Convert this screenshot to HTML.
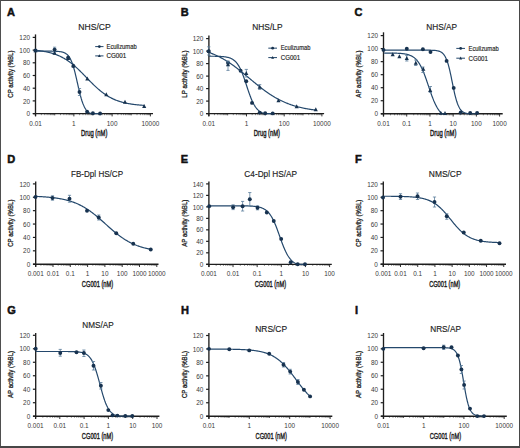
<!DOCTYPE html>
<html><head><meta charset="utf-8"><style>
html,body{margin:0;padding:0;background:#fff;}
body{width:520px;height:448px;overflow:hidden;}
svg{display:block;font-family:"Liberation Sans", sans-serif;}
#wrap{width:520px;height:448px;}

</style></head><body><div id="wrap">
<svg width="520" height="448" viewBox="0 0 520 448">
<rect x="0" y="0" width="520" height="448" fill="#fff"/>
<text x="6.90" y="15.90" font-size="11" text-anchor="start" font-weight="bold" fill="#111" stroke="#111" stroke-width="0.5">A</text>
<text x="94.55" y="29.90" font-size="9" text-anchor="middle" font-weight="normal" fill="#222" stroke="#222" stroke-width="0.15" textLength="32.50" lengthAdjust="spacingAndGlyphs">NHS/CP</text>
<path d="M35.50,34.40 V116.20" stroke="#1e1e1e" stroke-width="1.35" fill="none"/>
<path d="M32.70,113.60 H35.50" stroke="#1e1e1e" stroke-width="1.2" fill="none"/>
<text x="30.00" y="116.25" font-size="6.4" text-anchor="end" font-weight="normal" fill="#383838" stroke="#383838" stroke-width="0">0</text>
<path d="M32.70,100.90 H35.50" stroke="#1e1e1e" stroke-width="1.2" fill="none"/>
<text x="30.00" y="103.55" font-size="6.4" text-anchor="end" font-weight="normal" fill="#383838" stroke="#383838" stroke-width="0">20</text>
<path d="M32.70,88.20 H35.50" stroke="#1e1e1e" stroke-width="1.2" fill="none"/>
<text x="30.00" y="90.85" font-size="6.4" text-anchor="end" font-weight="normal" fill="#383838" stroke="#383838" stroke-width="0">40</text>
<path d="M32.70,75.50 H35.50" stroke="#1e1e1e" stroke-width="1.2" fill="none"/>
<text x="30.00" y="78.15" font-size="6.4" text-anchor="end" font-weight="normal" fill="#383838" stroke="#383838" stroke-width="0">60</text>
<path d="M32.70,62.80 H35.50" stroke="#1e1e1e" stroke-width="1.2" fill="none"/>
<text x="30.00" y="65.45" font-size="6.4" text-anchor="end" font-weight="normal" fill="#383838" stroke="#383838" stroke-width="0">80</text>
<path d="M32.70,50.10 H35.50" stroke="#1e1e1e" stroke-width="1.2" fill="none"/>
<text x="30.00" y="52.75" font-size="6.4" text-anchor="end" font-weight="normal" fill="#383838" stroke="#383838" stroke-width="0">100</text>
<path d="M32.70,37.40 H35.50" stroke="#1e1e1e" stroke-width="1.2" fill="none"/>
<text x="30.00" y="40.05" font-size="6.4" text-anchor="end" font-weight="normal" fill="#383838" stroke="#383838" stroke-width="0">120</text>
<path d="M32.90,113.60 H153.00" stroke="#1e1e1e" stroke-width="1.35" fill="none"/>
<path d="M35.60,113.60 V116.40" stroke="#1e1e1e" stroke-width="0.9" fill="none"/>
<path d="M41.36,113.60 V115.20" stroke="#1e1e1e" stroke-width="0.5" fill="none"/>
<path d="M44.73,113.60 V115.20" stroke="#1e1e1e" stroke-width="0.5" fill="none"/>
<path d="M47.12,113.60 V115.20" stroke="#1e1e1e" stroke-width="0.5" fill="none"/>
<path d="M48.97,113.60 V115.20" stroke="#1e1e1e" stroke-width="0.5" fill="none"/>
<path d="M50.49,113.60 V115.20" stroke="#1e1e1e" stroke-width="0.5" fill="none"/>
<path d="M51.77,113.60 V115.20" stroke="#1e1e1e" stroke-width="0.5" fill="none"/>
<path d="M52.88,113.60 V115.20" stroke="#1e1e1e" stroke-width="0.5" fill="none"/>
<path d="M53.85,113.60 V115.20" stroke="#1e1e1e" stroke-width="0.5" fill="none"/>
<path d="M54.73,113.60 V115.40" stroke="#1e1e1e" stroke-width="0.7" fill="none"/>
<path d="M60.49,113.60 V115.20" stroke="#1e1e1e" stroke-width="0.5" fill="none"/>
<path d="M63.86,113.60 V115.20" stroke="#1e1e1e" stroke-width="0.5" fill="none"/>
<path d="M66.25,113.60 V115.20" stroke="#1e1e1e" stroke-width="0.5" fill="none"/>
<path d="M68.10,113.60 V115.20" stroke="#1e1e1e" stroke-width="0.5" fill="none"/>
<path d="M69.62,113.60 V115.20" stroke="#1e1e1e" stroke-width="0.5" fill="none"/>
<path d="M70.90,113.60 V115.20" stroke="#1e1e1e" stroke-width="0.5" fill="none"/>
<path d="M72.01,113.60 V115.20" stroke="#1e1e1e" stroke-width="0.5" fill="none"/>
<path d="M72.98,113.60 V115.20" stroke="#1e1e1e" stroke-width="0.5" fill="none"/>
<path d="M73.86,113.60 V116.40" stroke="#1e1e1e" stroke-width="0.9" fill="none"/>
<path d="M79.62,113.60 V115.20" stroke="#1e1e1e" stroke-width="0.5" fill="none"/>
<path d="M82.99,113.60 V115.20" stroke="#1e1e1e" stroke-width="0.5" fill="none"/>
<path d="M85.38,113.60 V115.20" stroke="#1e1e1e" stroke-width="0.5" fill="none"/>
<path d="M87.23,113.60 V115.20" stroke="#1e1e1e" stroke-width="0.5" fill="none"/>
<path d="M88.75,113.60 V115.20" stroke="#1e1e1e" stroke-width="0.5" fill="none"/>
<path d="M90.03,113.60 V115.20" stroke="#1e1e1e" stroke-width="0.5" fill="none"/>
<path d="M91.14,113.60 V115.20" stroke="#1e1e1e" stroke-width="0.5" fill="none"/>
<path d="M92.11,113.60 V115.20" stroke="#1e1e1e" stroke-width="0.5" fill="none"/>
<path d="M92.99,113.60 V115.40" stroke="#1e1e1e" stroke-width="0.7" fill="none"/>
<path d="M98.75,113.60 V115.20" stroke="#1e1e1e" stroke-width="0.5" fill="none"/>
<path d="M102.12,113.60 V115.20" stroke="#1e1e1e" stroke-width="0.5" fill="none"/>
<path d="M104.51,113.60 V115.20" stroke="#1e1e1e" stroke-width="0.5" fill="none"/>
<path d="M106.36,113.60 V115.20" stroke="#1e1e1e" stroke-width="0.5" fill="none"/>
<path d="M107.88,113.60 V115.20" stroke="#1e1e1e" stroke-width="0.5" fill="none"/>
<path d="M109.16,113.60 V115.20" stroke="#1e1e1e" stroke-width="0.5" fill="none"/>
<path d="M110.27,113.60 V115.20" stroke="#1e1e1e" stroke-width="0.5" fill="none"/>
<path d="M111.24,113.60 V115.20" stroke="#1e1e1e" stroke-width="0.5" fill="none"/>
<path d="M112.12,113.60 V116.40" stroke="#1e1e1e" stroke-width="0.9" fill="none"/>
<path d="M117.88,113.60 V115.20" stroke="#1e1e1e" stroke-width="0.5" fill="none"/>
<path d="M121.25,113.60 V115.20" stroke="#1e1e1e" stroke-width="0.5" fill="none"/>
<path d="M123.64,113.60 V115.20" stroke="#1e1e1e" stroke-width="0.5" fill="none"/>
<path d="M125.49,113.60 V115.20" stroke="#1e1e1e" stroke-width="0.5" fill="none"/>
<path d="M127.01,113.60 V115.20" stroke="#1e1e1e" stroke-width="0.5" fill="none"/>
<path d="M128.29,113.60 V115.20" stroke="#1e1e1e" stroke-width="0.5" fill="none"/>
<path d="M129.40,113.60 V115.20" stroke="#1e1e1e" stroke-width="0.5" fill="none"/>
<path d="M130.37,113.60 V115.20" stroke="#1e1e1e" stroke-width="0.5" fill="none"/>
<path d="M131.25,113.60 V115.40" stroke="#1e1e1e" stroke-width="0.7" fill="none"/>
<path d="M137.01,113.60 V115.20" stroke="#1e1e1e" stroke-width="0.5" fill="none"/>
<path d="M140.38,113.60 V115.20" stroke="#1e1e1e" stroke-width="0.5" fill="none"/>
<path d="M142.77,113.60 V115.20" stroke="#1e1e1e" stroke-width="0.5" fill="none"/>
<path d="M144.62,113.60 V115.20" stroke="#1e1e1e" stroke-width="0.5" fill="none"/>
<path d="M146.14,113.60 V115.20" stroke="#1e1e1e" stroke-width="0.5" fill="none"/>
<path d="M147.42,113.60 V115.20" stroke="#1e1e1e" stroke-width="0.5" fill="none"/>
<path d="M148.53,113.60 V115.20" stroke="#1e1e1e" stroke-width="0.5" fill="none"/>
<path d="M149.50,113.60 V115.20" stroke="#1e1e1e" stroke-width="0.5" fill="none"/>
<path d="M150.38,113.60 V116.40" stroke="#1e1e1e" stroke-width="0.9" fill="none"/>
<text x="35.60" y="125.60" font-size="6.4" text-anchor="middle" font-weight="normal" fill="#383838" stroke="#383838" stroke-width="0">0.01</text>
<text x="73.86" y="125.60" font-size="6.4" text-anchor="middle" font-weight="normal" fill="#383838" stroke="#383838" stroke-width="0">1</text>
<text x="112.12" y="125.60" font-size="6.4" text-anchor="middle" font-weight="normal" fill="#383838" stroke="#383838" stroke-width="0">100</text>
<text x="150.38" y="125.60" font-size="6.4" text-anchor="middle" font-weight="normal" fill="#383838" stroke="#383838" stroke-width="0">10000</text>
<text x="13.40" y="74.10" font-size="7.7" text-anchor="middle" font-weight="normal" fill="#1a1a1a" stroke="#1a1a1a" stroke-width="0.3" textLength="47.20" lengthAdjust="spacingAndGlyphs" transform="rotate(-90 13.40 74.10)">CP activity (%BL)</text>
<text x="94.20" y="136.40" font-size="8.6" text-anchor="middle" font-weight="normal" fill="#1a1a1a" stroke="#1a1a1a" stroke-width="0.4" textLength="26.30" lengthAdjust="spacingAndGlyphs">Drug (nM)</text>
<path d="M95.20,46.60 H103.50" stroke="#24486c" stroke-width="1" fill="none"/>
<circle cx="99.35" cy="46.60" r="1.4" fill="#17324f"/>
<text x="106.50" y="48.90" font-size="6.5" text-anchor="start" font-weight="normal" fill="#222" stroke="#222" stroke-width="0.15" textLength="30.20" lengthAdjust="spacingAndGlyphs">Eculizumab</text>
<path d="M95.20,55.90 H103.50" stroke="#24486c" stroke-width="1" fill="none"/>
<path d="M99.35,54.21 L100.82,57.08 L97.88,57.08 Z" fill="#17324f"/>
<text x="106.50" y="58.20" font-size="6.5" text-anchor="start" font-weight="normal" fill="#222" stroke="#222" stroke-width="0.15" textLength="19.80" lengthAdjust="spacingAndGlyphs">CG001</text>
<path d="M35.50,51.17 L35.82,51.17 L36.15,51.17 L36.47,51.17 L36.80,51.17 L37.12,51.17 L37.45,51.17 L37.77,51.17 L38.10,51.17 L38.42,51.17 L38.75,51.17 L39.07,51.17 L39.40,51.17 L39.72,51.17 L40.04,51.17 L40.37,51.17 L40.69,51.17 L41.02,51.17 L41.34,51.17 L41.67,51.17 L41.99,51.17 L42.32,51.17 L42.64,51.17 L42.97,51.17 L43.29,51.17 L43.62,51.17 L43.94,51.18 L44.26,51.18 L44.59,51.18 L44.91,51.18 L45.24,51.18 L45.56,51.18 L45.89,51.18 L46.21,51.18 L46.54,51.18 L46.86,51.18 L47.19,51.18 L47.51,51.18 L47.84,51.19 L48.16,51.19 L48.48,51.19 L48.81,51.19 L49.13,51.19 L49.46,51.20 L49.78,51.20 L50.11,51.20 L50.43,51.20 L50.76,51.21 L51.08,51.21 L51.41,51.21 L51.73,51.22 L52.06,51.22 L52.38,51.23 L52.71,51.23 L53.03,51.24 L53.35,51.24 L53.68,51.25 L54.00,51.26 L54.33,51.27 L54.65,51.28 L54.98,51.29 L55.30,51.30 L55.63,51.31 L55.95,51.32 L56.28,51.34 L56.60,51.36 L56.93,51.37 L57.25,51.39 L57.57,51.41 L57.90,51.44 L58.22,51.46 L58.55,51.49 L58.87,51.52 L59.20,51.55 L59.52,51.59 L59.85,51.63 L60.17,51.67 L60.50,51.72 L60.82,51.77 L61.15,51.83 L61.47,51.89 L61.79,51.96 L62.12,52.03 L62.44,52.11 L62.77,52.20 L63.09,52.30 L63.42,52.40 L63.74,52.52 L64.07,52.64 L64.39,52.78 L64.72,52.93 L65.04,53.09 L65.37,53.27 L65.69,53.46 L66.01,53.67 L66.34,53.90 L66.66,54.14 L66.99,54.41 L67.31,54.70 L67.64,55.02 L67.96,55.36 L68.29,55.73 L68.61,56.13 L68.94,56.56 L69.26,57.03 L69.59,57.53 L69.91,58.07 L70.23,58.65 L70.56,59.27 L70.88,59.94 L71.21,60.65 L71.53,61.40 L71.86,62.21 L72.18,63.06 L72.51,63.97 L72.83,64.92 L73.16,65.93 L73.48,66.98 L73.81,68.09 L74.13,69.24 L74.45,70.44 L74.78,71.69 L75.10,72.97 L75.43,74.29 L75.75,75.65 L76.08,77.03 L76.40,78.44 L76.73,79.87 L77.05,81.30 L77.38,82.75 L77.70,84.20 L78.03,85.64 L78.35,87.07 L78.67,88.49 L79.00,89.88 L79.32,91.25 L79.65,92.59 L79.97,93.89 L80.30,95.15 L80.62,96.36 L80.95,97.53 L81.27,98.66 L81.60,99.73 L81.92,100.76 L82.25,101.73 L82.57,102.66 L82.89,103.53 L83.22,104.36 L83.54,105.13 L83.87,105.86 L84.19,106.54 L84.52,107.18 L84.84,107.78 L85.17,108.33 L85.49,108.85 L85.82,109.33 L86.14,109.77 L86.47,110.19 L86.79,110.57 L87.12,110.92 L87.44,111.25 L87.76,111.55 L88.09,111.82 L88.41,112.08 L88.74,112.31 L89.06,112.53 L89.39,112.73 L89.71,112.91 L90.04,113.08 L90.36,113.23 L90.69,113.38 L91.01,113.51 L91.34,113.60 L91.66,113.60 L91.98,113.60 L92.31,113.60 L92.63,113.60 L92.96,113.60 L93.28,113.60 L93.61,113.60 L93.93,113.60 L94.26,113.60 L94.58,113.60 L94.91,113.60 L95.23,113.60 L95.56,113.60 L95.88,113.60 L96.20,113.60 L96.53,113.60 L96.85,113.60 L97.18,113.60 L97.50,113.60 L97.83,113.60 L98.15,113.60 L98.48,113.60 L98.80,113.60 L99.13,113.60 L99.45,113.60 L99.78,113.60 L100.10,113.60" stroke="#24486c" stroke-width="1.2" fill="none"/>
<path d="M54.60,47.20 V52.00 M53.00,47.20 H56.20 M53.00,52.00 H56.20" stroke="#5c7d9c" stroke-width="0.8" fill="none"/>
<path d="M79.50,88.50 V95.50 M77.90,88.50 H81.10 M77.90,95.50 H81.10" stroke="#5c7d9c" stroke-width="0.8" fill="none"/>
<circle cx="35.50" cy="50.50" r="1.95" fill="#17324f"/>
<circle cx="54.60" cy="49.60" r="1.95" fill="#17324f"/>
<circle cx="68.10" cy="57.80" r="1.95" fill="#17324f"/>
<circle cx="73.40" cy="66.00" r="1.95" fill="#17324f"/>
<circle cx="79.50" cy="92.00" r="1.95" fill="#17324f"/>
<circle cx="87.10" cy="111.70" r="1.95" fill="#17324f"/>
<circle cx="92.90" cy="113.20" r="1.95" fill="#17324f"/>
<circle cx="100.10" cy="113.50" r="1.95" fill="#17324f"/>
<path d="M35.50,50.28 L36.05,50.33 L36.59,50.39 L37.14,50.45 L37.68,50.51 L38.23,50.58 L38.78,50.64 L39.32,50.71 L39.87,50.79 L40.42,50.86 L40.96,50.94 L41.51,51.02 L42.05,51.10 L42.60,51.19 L43.15,51.28 L43.69,51.37 L44.24,51.47 L44.79,51.57 L45.33,51.67 L45.88,51.78 L46.42,51.89 L46.97,52.01 L47.52,52.13 L48.06,52.25 L48.61,52.38 L49.16,52.51 L49.70,52.65 L50.25,52.79 L50.79,52.93 L51.34,53.09 L51.89,53.24 L52.43,53.41 L52.98,53.57 L53.53,53.75 L54.07,53.93 L54.62,54.11 L55.16,54.30 L55.71,54.50 L56.26,54.70 L56.80,54.91 L57.35,55.13 L57.90,55.35 L58.44,55.58 L58.99,55.82 L59.53,56.06 L60.08,56.32 L60.63,56.58 L61.17,56.84 L61.72,57.12 L62.27,57.40 L62.81,57.69 L63.36,57.99 L63.90,58.29 L64.45,58.61 L65.00,58.93 L65.54,59.26 L66.09,59.60 L66.64,59.95 L67.18,60.30 L67.73,60.67 L68.27,61.04 L68.82,61.42 L69.37,61.82 L69.91,62.21 L70.46,62.62 L71.01,63.04 L71.55,63.46 L72.10,63.89 L72.64,64.34 L73.19,64.78 L73.74,65.24 L74.28,65.71 L74.83,66.18 L75.37,66.66 L75.92,67.14 L76.47,67.64 L77.01,68.14 L77.56,68.64 L78.11,69.16 L78.65,69.68 L79.20,70.20 L79.74,70.73 L80.29,71.27 L80.84,71.81 L81.38,72.35 L81.93,72.90 L82.48,73.45 L83.02,74.00 L83.57,74.56 L84.11,75.12 L84.66,75.68 L85.21,76.25 L85.75,76.81 L86.30,77.37 L86.85,77.94 L87.39,78.50 L87.94,79.07 L88.48,79.63 L89.03,80.19 L89.58,80.75 L90.12,81.30 L90.67,81.86 L91.22,82.41 L91.76,82.95 L92.31,83.50 L92.85,84.03 L93.40,84.57 L93.95,85.10 L94.49,85.62 L95.04,86.14 L95.59,86.65 L96.13,87.15 L96.68,87.65 L97.22,88.14 L97.77,88.63 L98.32,89.10 L98.86,89.57 L99.41,90.03 L99.96,90.49 L100.50,90.93 L101.05,91.37 L101.59,91.80 L102.14,92.22 L102.69,92.64 L103.23,93.04 L103.78,93.44 L104.33,93.83 L104.87,94.20 L105.42,94.58 L105.96,94.94 L106.51,95.29 L107.06,95.64 L107.60,95.97 L108.15,96.30 L108.69,96.62 L109.24,96.93 L109.79,97.24 L110.33,97.53 L110.88,97.82 L111.43,98.10 L111.97,98.37 L112.52,98.63 L113.06,98.89 L113.61,99.14 L114.16,99.38 L114.70,99.62 L115.25,99.84 L115.80,100.07 L116.34,100.28 L116.89,100.49 L117.43,100.69 L117.98,100.88 L118.53,101.07 L119.07,101.26 L119.62,101.43 L120.17,101.60 L120.71,101.77 L121.26,101.93 L121.80,102.09 L122.35,102.24 L122.90,102.38 L123.44,102.52 L123.99,102.66 L124.54,102.79 L125.08,102.91 L125.63,103.04 L126.17,103.15 L126.72,103.27 L127.27,103.38 L127.81,103.48 L128.36,103.59 L128.91,103.69 L129.45,103.78 L130.00,103.87 L130.54,103.96 L131.09,104.05 L131.64,104.13 L132.18,104.21 L132.73,104.29 L133.28,104.36 L133.82,104.43 L134.37,104.50 L134.91,104.57 L135.46,104.63 L136.01,104.69 L136.55,104.75 L137.10,104.81 L137.65,104.86 L138.19,104.92 L138.74,104.97 L139.28,105.02 L139.83,105.06 L140.38,105.11 L140.92,105.15 L141.47,105.20 L142.02,105.24 L142.56,105.27 L143.11,105.31 L143.65,105.35 L144.20,105.38" stroke="#24486c" stroke-width="1.2" fill="none"/>
<path d="M35.50,48.35 L37.55,52.34 L33.45,52.34 Z" fill="#17324f"/>
<path d="M54.60,50.65 L56.65,54.64 L52.55,54.64 Z" fill="#17324f"/>
<path d="M68.10,55.95 L70.15,59.94 L66.05,59.94 Z" fill="#17324f"/>
<path d="M73.40,63.15 L75.45,67.14 L71.35,67.14 Z" fill="#17324f"/>
<path d="M87.30,76.55 L89.35,80.54 L85.25,80.54 Z" fill="#17324f"/>
<path d="M106.30,92.35 L108.35,96.34 L104.25,96.34 Z" fill="#17324f"/>
<path d="M125.00,99.75 L127.05,103.74 L122.95,103.74 Z" fill="#17324f"/>
<path d="M144.20,103.95 L146.25,107.94 L142.15,107.94 Z" fill="#17324f"/>
<text x="180.70" y="15.90" font-size="11" text-anchor="start" font-weight="bold" fill="#111" stroke="#111" stroke-width="0.5">B</text>
<text x="267.40" y="29.90" font-size="9" text-anchor="middle" font-weight="normal" fill="#222" stroke="#222" stroke-width="0.15" textLength="30.20" lengthAdjust="spacingAndGlyphs">NHS/LP</text>
<path d="M208.90,35.50 V116.20" stroke="#1e1e1e" stroke-width="1.35" fill="none"/>
<path d="M206.10,113.60 H208.90" stroke="#1e1e1e" stroke-width="1.2" fill="none"/>
<text x="203.40" y="116.25" font-size="6.4" text-anchor="end" font-weight="normal" fill="#383838" stroke="#383838" stroke-width="0">0</text>
<path d="M206.10,101.10 H208.90" stroke="#1e1e1e" stroke-width="1.2" fill="none"/>
<text x="203.40" y="103.75" font-size="6.4" text-anchor="end" font-weight="normal" fill="#383838" stroke="#383838" stroke-width="0">20</text>
<path d="M206.10,88.60 H208.90" stroke="#1e1e1e" stroke-width="1.2" fill="none"/>
<text x="203.40" y="91.25" font-size="6.4" text-anchor="end" font-weight="normal" fill="#383838" stroke="#383838" stroke-width="0">40</text>
<path d="M206.10,76.10 H208.90" stroke="#1e1e1e" stroke-width="1.2" fill="none"/>
<text x="203.40" y="78.75" font-size="6.4" text-anchor="end" font-weight="normal" fill="#383838" stroke="#383838" stroke-width="0">60</text>
<path d="M206.10,63.60 H208.90" stroke="#1e1e1e" stroke-width="1.2" fill="none"/>
<text x="203.40" y="66.25" font-size="6.4" text-anchor="end" font-weight="normal" fill="#383838" stroke="#383838" stroke-width="0">80</text>
<path d="M206.10,51.10 H208.90" stroke="#1e1e1e" stroke-width="1.2" fill="none"/>
<text x="203.40" y="53.75" font-size="6.4" text-anchor="end" font-weight="normal" fill="#383838" stroke="#383838" stroke-width="0">100</text>
<path d="M206.10,38.60 H208.90" stroke="#1e1e1e" stroke-width="1.2" fill="none"/>
<text x="203.40" y="41.25" font-size="6.4" text-anchor="end" font-weight="normal" fill="#383838" stroke="#383838" stroke-width="0">120</text>
<path d="M206.30,113.60 H324.10" stroke="#1e1e1e" stroke-width="1.35" fill="none"/>
<path d="M208.80,113.60 V116.40" stroke="#1e1e1e" stroke-width="0.9" fill="none"/>
<path d="M214.47,113.60 V115.20" stroke="#1e1e1e" stroke-width="0.5" fill="none"/>
<path d="M217.79,113.60 V115.20" stroke="#1e1e1e" stroke-width="0.5" fill="none"/>
<path d="M220.15,113.60 V115.20" stroke="#1e1e1e" stroke-width="0.5" fill="none"/>
<path d="M221.98,113.60 V115.20" stroke="#1e1e1e" stroke-width="0.5" fill="none"/>
<path d="M223.47,113.60 V115.20" stroke="#1e1e1e" stroke-width="0.5" fill="none"/>
<path d="M224.73,113.60 V115.20" stroke="#1e1e1e" stroke-width="0.5" fill="none"/>
<path d="M225.82,113.60 V115.20" stroke="#1e1e1e" stroke-width="0.5" fill="none"/>
<path d="M226.79,113.60 V115.20" stroke="#1e1e1e" stroke-width="0.5" fill="none"/>
<path d="M227.65,113.60 V115.40" stroke="#1e1e1e" stroke-width="0.7" fill="none"/>
<path d="M233.32,113.60 V115.20" stroke="#1e1e1e" stroke-width="0.5" fill="none"/>
<path d="M236.64,113.60 V115.20" stroke="#1e1e1e" stroke-width="0.5" fill="none"/>
<path d="M239.00,113.60 V115.20" stroke="#1e1e1e" stroke-width="0.5" fill="none"/>
<path d="M240.83,113.60 V115.20" stroke="#1e1e1e" stroke-width="0.5" fill="none"/>
<path d="M242.32,113.60 V115.20" stroke="#1e1e1e" stroke-width="0.5" fill="none"/>
<path d="M243.58,113.60 V115.20" stroke="#1e1e1e" stroke-width="0.5" fill="none"/>
<path d="M244.67,113.60 V115.20" stroke="#1e1e1e" stroke-width="0.5" fill="none"/>
<path d="M245.64,113.60 V115.20" stroke="#1e1e1e" stroke-width="0.5" fill="none"/>
<path d="M246.50,113.60 V116.40" stroke="#1e1e1e" stroke-width="0.9" fill="none"/>
<path d="M252.17,113.60 V115.20" stroke="#1e1e1e" stroke-width="0.5" fill="none"/>
<path d="M255.49,113.60 V115.20" stroke="#1e1e1e" stroke-width="0.5" fill="none"/>
<path d="M257.85,113.60 V115.20" stroke="#1e1e1e" stroke-width="0.5" fill="none"/>
<path d="M259.68,113.60 V115.20" stroke="#1e1e1e" stroke-width="0.5" fill="none"/>
<path d="M261.17,113.60 V115.20" stroke="#1e1e1e" stroke-width="0.5" fill="none"/>
<path d="M262.43,113.60 V115.20" stroke="#1e1e1e" stroke-width="0.5" fill="none"/>
<path d="M263.52,113.60 V115.20" stroke="#1e1e1e" stroke-width="0.5" fill="none"/>
<path d="M264.49,113.60 V115.20" stroke="#1e1e1e" stroke-width="0.5" fill="none"/>
<path d="M265.35,113.60 V115.40" stroke="#1e1e1e" stroke-width="0.7" fill="none"/>
<path d="M271.02,113.60 V115.20" stroke="#1e1e1e" stroke-width="0.5" fill="none"/>
<path d="M274.34,113.60 V115.20" stroke="#1e1e1e" stroke-width="0.5" fill="none"/>
<path d="M276.70,113.60 V115.20" stroke="#1e1e1e" stroke-width="0.5" fill="none"/>
<path d="M278.53,113.60 V115.20" stroke="#1e1e1e" stroke-width="0.5" fill="none"/>
<path d="M280.02,113.60 V115.20" stroke="#1e1e1e" stroke-width="0.5" fill="none"/>
<path d="M281.28,113.60 V115.20" stroke="#1e1e1e" stroke-width="0.5" fill="none"/>
<path d="M282.37,113.60 V115.20" stroke="#1e1e1e" stroke-width="0.5" fill="none"/>
<path d="M283.34,113.60 V115.20" stroke="#1e1e1e" stroke-width="0.5" fill="none"/>
<path d="M284.20,113.60 V116.40" stroke="#1e1e1e" stroke-width="0.9" fill="none"/>
<path d="M289.87,113.60 V115.20" stroke="#1e1e1e" stroke-width="0.5" fill="none"/>
<path d="M293.19,113.60 V115.20" stroke="#1e1e1e" stroke-width="0.5" fill="none"/>
<path d="M295.55,113.60 V115.20" stroke="#1e1e1e" stroke-width="0.5" fill="none"/>
<path d="M297.38,113.60 V115.20" stroke="#1e1e1e" stroke-width="0.5" fill="none"/>
<path d="M298.87,113.60 V115.20" stroke="#1e1e1e" stroke-width="0.5" fill="none"/>
<path d="M300.13,113.60 V115.20" stroke="#1e1e1e" stroke-width="0.5" fill="none"/>
<path d="M301.22,113.60 V115.20" stroke="#1e1e1e" stroke-width="0.5" fill="none"/>
<path d="M302.19,113.60 V115.20" stroke="#1e1e1e" stroke-width="0.5" fill="none"/>
<path d="M303.05,113.60 V115.40" stroke="#1e1e1e" stroke-width="0.7" fill="none"/>
<path d="M308.72,113.60 V115.20" stroke="#1e1e1e" stroke-width="0.5" fill="none"/>
<path d="M312.04,113.60 V115.20" stroke="#1e1e1e" stroke-width="0.5" fill="none"/>
<path d="M314.40,113.60 V115.20" stroke="#1e1e1e" stroke-width="0.5" fill="none"/>
<path d="M316.23,113.60 V115.20" stroke="#1e1e1e" stroke-width="0.5" fill="none"/>
<path d="M317.72,113.60 V115.20" stroke="#1e1e1e" stroke-width="0.5" fill="none"/>
<path d="M318.98,113.60 V115.20" stroke="#1e1e1e" stroke-width="0.5" fill="none"/>
<path d="M320.07,113.60 V115.20" stroke="#1e1e1e" stroke-width="0.5" fill="none"/>
<path d="M321.04,113.60 V115.20" stroke="#1e1e1e" stroke-width="0.5" fill="none"/>
<path d="M321.90,113.60 V116.40" stroke="#1e1e1e" stroke-width="0.9" fill="none"/>
<text x="208.80" y="125.60" font-size="6.4" text-anchor="middle" font-weight="normal" fill="#383838" stroke="#383838" stroke-width="0">0.01</text>
<text x="246.50" y="125.60" font-size="6.4" text-anchor="middle" font-weight="normal" fill="#383838" stroke="#383838" stroke-width="0">1</text>
<text x="284.20" y="125.60" font-size="6.4" text-anchor="middle" font-weight="normal" fill="#383838" stroke="#383838" stroke-width="0">100</text>
<text x="321.90" y="125.60" font-size="6.4" text-anchor="middle" font-weight="normal" fill="#383838" stroke="#383838" stroke-width="0">10000</text>
<text x="186.80" y="74.10" font-size="7.7" text-anchor="middle" font-weight="normal" fill="#1a1a1a" stroke="#1a1a1a" stroke-width="0.3" textLength="47.20" lengthAdjust="spacingAndGlyphs" transform="rotate(-90 186.80 74.10)">LP activity (%BL)</text>
<text x="266.90" y="136.40" font-size="8.6" text-anchor="middle" font-weight="normal" fill="#1a1a1a" stroke="#1a1a1a" stroke-width="0.4" textLength="26.30" lengthAdjust="spacingAndGlyphs">Drug (nM)</text>
<path d="M268.30,48.15 H277.00" stroke="#24486c" stroke-width="1" fill="none"/>
<circle cx="272.65" cy="48.15" r="1.4" fill="#17324f"/>
<text x="280.80" y="50.45" font-size="6.5" text-anchor="start" font-weight="normal" fill="#222" stroke="#222" stroke-width="0.15" textLength="29.60" lengthAdjust="spacingAndGlyphs">Eculizumab</text>
<path d="M268.30,57.60 H277.00" stroke="#24486c" stroke-width="1" fill="none"/>
<path d="M272.65,55.91 L274.12,58.78 L271.18,58.78 Z" fill="#17324f"/>
<text x="280.80" y="59.90" font-size="6.5" text-anchor="start" font-weight="normal" fill="#222" stroke="#222" stroke-width="0.15" textLength="19.30" lengthAdjust="spacingAndGlyphs">CG001</text>
<path d="M208.90,56.21 L209.22,56.21 L209.54,56.21 L209.86,56.22 L210.18,56.22 L210.50,56.22 L210.82,56.22 L211.14,56.23 L211.46,56.23 L211.79,56.23 L212.11,56.23 L212.43,56.24 L212.75,56.24 L213.07,56.24 L213.39,56.25 L213.71,56.25 L214.03,56.26 L214.35,56.26 L214.67,56.27 L214.99,56.27 L215.31,56.28 L215.63,56.28 L215.95,56.29 L216.27,56.30 L216.59,56.31 L216.92,56.31 L217.24,56.32 L217.56,56.33 L217.88,56.34 L218.20,56.35 L218.52,56.36 L218.84,56.38 L219.16,56.39 L219.48,56.40 L219.80,56.42 L220.12,56.43 L220.44,56.45 L220.76,56.47 L221.08,56.49 L221.40,56.51 L221.72,56.53 L222.04,56.55 L222.37,56.58 L222.69,56.60 L223.01,56.63 L223.33,56.66 L223.65,56.69 L223.97,56.73 L224.29,56.76 L224.61,56.80 L224.93,56.84 L225.25,56.89 L225.57,56.94 L225.89,56.99 L226.21,57.04 L226.53,57.10 L226.85,57.16 L227.17,57.23 L227.49,57.30 L227.82,57.37 L228.14,57.45 L228.46,57.54 L228.78,57.63 L229.10,57.72 L229.42,57.82 L229.74,57.93 L230.06,58.05 L230.38,58.17 L230.70,58.30 L231.02,58.44 L231.34,58.59 L231.66,58.75 L231.98,58.92 L232.30,59.09 L232.62,59.28 L232.95,59.48 L233.27,59.70 L233.59,59.92 L233.91,60.16 L234.23,60.41 L234.55,60.68 L234.87,60.97 L235.19,61.27 L235.51,61.58 L235.83,61.92 L236.15,62.27 L236.47,62.64 L236.79,63.03 L237.11,63.44 L237.43,63.88 L237.75,64.33 L238.07,64.81 L238.40,65.31 L238.72,65.83 L239.04,66.38 L239.36,66.95 L239.68,67.55 L240.00,68.17 L240.32,68.81 L240.64,69.48 L240.96,70.18 L241.28,70.90 L241.60,71.64 L241.92,72.41 L242.24,73.20 L242.56,74.01 L242.88,74.85 L243.20,75.70 L243.53,76.58 L243.85,77.47 L244.17,78.38 L244.49,79.31 L244.81,80.24 L245.13,81.19 L245.45,82.15 L245.77,83.12 L246.09,84.09 L246.41,85.06 L246.73,86.04 L247.05,87.01 L247.37,87.98 L247.69,88.95 L248.01,89.91 L248.33,90.86 L248.65,91.80 L248.98,92.72 L249.30,93.63 L249.62,94.53 L249.94,95.40 L250.26,96.26 L250.58,97.09 L250.90,97.91 L251.22,98.70 L251.54,99.47 L251.86,100.22 L252.18,100.94 L252.50,101.64 L252.82,102.31 L253.14,102.96 L253.46,103.58 L253.78,104.18 L254.11,104.75 L254.43,105.30 L254.75,105.82 L255.07,106.33 L255.39,106.80 L255.71,107.26 L256.03,107.70 L256.35,108.11 L256.67,108.50 L256.99,108.87 L257.31,109.23 L257.63,109.56 L257.95,109.88 L258.27,110.18 L258.59,110.47 L258.91,110.74 L259.23,110.99 L259.56,111.23 L259.88,111.46 L260.20,111.67 L260.52,111.87 L260.84,112.06 L261.16,112.24 L261.48,112.41 L261.80,112.57 L262.12,112.72 L262.44,112.86 L262.76,112.99 L263.08,113.11 L263.40,113.23 L263.72,113.34 L264.04,113.44 L264.36,113.54 L264.68,113.60 L265.01,113.60 L265.33,113.60 L265.65,113.60 L265.97,113.60 L266.29,113.60 L266.61,113.60 L266.93,113.60 L267.25,113.60 L267.57,113.60 L267.89,113.60 L268.21,113.60 L268.53,113.60 L268.85,113.60 L269.17,113.60 L269.49,113.60 L269.81,113.60 L270.14,113.60 L270.46,113.60 L270.78,113.60 L271.10,113.60 L271.42,113.60 L271.74,113.60 L272.06,113.60 L272.38,113.60 L272.70,113.60" stroke="#24486c" stroke-width="1.2" fill="none"/>
<path d="M208.80,46.80 V55.00 M207.20,46.80 H210.40 M207.20,55.00 H210.40" stroke="#5c7d9c" stroke-width="0.8" fill="none"/>
<circle cx="208.80" cy="51.10" r="1.95" fill="#17324f"/>
<circle cx="228.00" cy="62.70" r="1.95" fill="#17324f"/>
<circle cx="240.60" cy="70.70" r="1.95" fill="#17324f"/>
<circle cx="246.25" cy="81.25" r="1.95" fill="#17324f"/>
<circle cx="252.00" cy="102.90" r="1.95" fill="#17324f"/>
<circle cx="259.70" cy="112.60" r="1.95" fill="#17324f"/>
<circle cx="265.20" cy="113.30" r="1.95" fill="#17324f"/>
<circle cx="272.70" cy="113.40" r="1.95" fill="#17324f"/>
<path d="M208.90,52.43 L209.44,52.62 L209.97,52.81 L210.51,53.01 L211.05,53.22 L211.59,53.43 L212.12,53.64 L212.66,53.86 L213.20,54.08 L213.73,54.30 L214.27,54.53 L214.81,54.76 L215.35,55.00 L215.88,55.24 L216.42,55.49 L216.96,55.74 L217.49,55.99 L218.03,56.25 L218.57,56.51 L219.11,56.78 L219.64,57.06 L220.18,57.33 L220.72,57.61 L221.26,57.90 L221.79,58.19 L222.33,58.49 L222.87,58.79 L223.40,59.09 L223.94,59.40 L224.48,59.71 L225.02,60.03 L225.55,60.35 L226.09,60.68 L226.63,61.01 L227.16,61.35 L227.70,61.69 L228.24,62.04 L228.78,62.39 L229.31,62.74 L229.85,63.10 L230.39,63.46 L230.92,63.83 L231.46,64.20 L232.00,64.57 L232.54,64.95 L233.07,65.33 L233.61,65.72 L234.15,66.11 L234.68,66.50 L235.22,66.90 L235.76,67.30 L236.30,67.71 L236.83,68.12 L237.37,68.53 L237.91,68.94 L238.45,69.36 L238.98,69.78 L239.52,70.20 L240.06,70.63 L240.59,71.06 L241.13,71.49 L241.67,71.92 L242.21,72.36 L242.74,72.79 L243.28,73.23 L243.82,73.68 L244.35,74.12 L244.89,74.56 L245.43,75.01 L245.97,75.45 L246.50,75.90 L247.04,76.35 L247.58,76.80 L248.11,77.25 L248.65,77.70 L249.19,78.15 L249.73,78.60 L250.26,79.05 L250.80,79.50 L251.34,79.95 L251.87,80.40 L252.41,80.85 L252.95,81.30 L253.49,81.75 L254.02,82.19 L254.56,82.64 L255.10,83.08 L255.64,83.52 L256.17,83.96 L256.71,84.40 L257.25,84.84 L257.78,85.27 L258.32,85.70 L258.86,86.13 L259.40,86.56 L259.93,86.98 L260.47,87.40 L261.01,87.82 L261.54,88.24 L262.08,88.65 L262.62,89.06 L263.16,89.46 L263.69,89.86 L264.23,90.26 L264.77,90.66 L265.30,91.05 L265.84,91.44 L266.38,91.82 L266.92,92.20 L267.45,92.58 L267.99,92.95 L268.53,93.32 L269.06,93.68 L269.60,94.04 L270.14,94.39 L270.68,94.74 L271.21,95.09 L271.75,95.43 L272.29,95.77 L272.83,96.10 L273.36,96.43 L273.90,96.75 L274.44,97.07 L274.97,97.39 L275.51,97.70 L276.05,98.00 L276.59,98.31 L277.12,98.60 L277.66,98.89 L278.20,99.18 L278.73,99.46 L279.27,99.74 L279.81,100.02 L280.35,100.29 L280.88,100.55 L281.42,100.81 L281.96,101.07 L282.49,101.32 L283.03,101.57 L283.57,101.81 L284.11,102.05 L284.64,102.28 L285.18,102.51 L285.72,102.74 L286.25,102.96 L286.79,103.18 L287.33,103.39 L287.87,103.60 L288.40,103.80 L288.94,104.00 L289.48,104.20 L290.02,104.39 L290.55,104.58 L291.09,104.77 L291.63,104.95 L292.16,105.13 L292.70,105.31 L293.24,105.48 L293.78,105.64 L294.31,105.81 L294.85,105.97 L295.39,106.13 L295.92,106.28 L296.46,106.43 L297.00,106.58 L297.54,106.72 L298.07,106.87 L298.61,107.00 L299.15,107.14 L299.68,107.27 L300.22,107.40 L300.76,107.53 L301.30,107.65 L301.83,107.77 L302.37,107.89 L302.91,108.01 L303.44,108.12 L303.98,108.23 L304.52,108.34 L305.06,108.44 L305.59,108.55 L306.13,108.65 L306.67,108.75 L307.21,108.84 L307.74,108.94 L308.28,109.03 L308.82,109.12 L309.35,109.20 L309.89,109.29 L310.43,109.37 L310.97,109.46 L311.50,109.54 L312.04,109.61 L312.58,109.69 L313.11,109.76 L313.65,109.84 L314.19,109.91 L314.73,109.97 L315.26,110.04 L315.80,110.11" stroke="#24486c" stroke-width="1.2" fill="none"/>
<path d="M228.00,61.00 V70.40 M226.40,61.00 H229.60 M226.40,70.40 H229.60" stroke="#5c7d9c" stroke-width="0.8" fill="none"/>
<path d="M246.30,69.40 V77.00 M244.70,69.40 H247.90 M244.70,77.00 H247.90" stroke="#5c7d9c" stroke-width="0.8" fill="none"/>
<path d="M259.70,84.60 V89.40 M258.10,84.60 H261.30 M258.10,89.40 H261.30" stroke="#5c7d9c" stroke-width="0.8" fill="none"/>
<path d="M208.80,48.95 L210.85,52.94 L206.75,52.94 Z" fill="#17324f"/>
<path d="M228.00,62.25 L230.05,66.24 L225.95,66.24 Z" fill="#17324f"/>
<path d="M246.30,70.90 L248.35,74.89 L244.25,74.89 Z" fill="#17324f"/>
<path d="M259.70,84.65 L261.75,88.64 L257.65,88.64 Z" fill="#17324f"/>
<path d="M278.50,98.15 L280.55,102.14 L276.45,102.14 Z" fill="#17324f"/>
<path d="M296.70,104.15 L298.75,108.14 L294.65,108.14 Z" fill="#17324f"/>
<path d="M315.80,107.25 L317.85,111.24 L313.75,111.24 Z" fill="#17324f"/>
<text x="354.50" y="15.90" font-size="11" text-anchor="start" font-weight="bold" fill="#111" stroke="#111" stroke-width="0.5">C</text>
<text x="441.70" y="29.90" font-size="9" text-anchor="middle" font-weight="normal" fill="#222" stroke="#222" stroke-width="0.15" textLength="30.80" lengthAdjust="spacingAndGlyphs">NHS/AP</text>
<path d="M383.50,32.30 V116.35" stroke="#1e1e1e" stroke-width="1.35" fill="none"/>
<path d="M380.70,113.75 H383.50" stroke="#1e1e1e" stroke-width="1.2" fill="none"/>
<text x="378.00" y="116.40" font-size="6.4" text-anchor="end" font-weight="normal" fill="#383838" stroke="#383838" stroke-width="0">0</text>
<path d="M380.70,100.72 H383.50" stroke="#1e1e1e" stroke-width="1.2" fill="none"/>
<text x="378.00" y="103.38" font-size="6.4" text-anchor="end" font-weight="normal" fill="#383838" stroke="#383838" stroke-width="0">20</text>
<path d="M380.70,87.70 H383.50" stroke="#1e1e1e" stroke-width="1.2" fill="none"/>
<text x="378.00" y="90.35" font-size="6.4" text-anchor="end" font-weight="normal" fill="#383838" stroke="#383838" stroke-width="0">40</text>
<path d="M380.70,74.67 H383.50" stroke="#1e1e1e" stroke-width="1.2" fill="none"/>
<text x="378.00" y="77.33" font-size="6.4" text-anchor="end" font-weight="normal" fill="#383838" stroke="#383838" stroke-width="0">60</text>
<path d="M380.70,61.65 H383.50" stroke="#1e1e1e" stroke-width="1.2" fill="none"/>
<text x="378.00" y="64.30" font-size="6.4" text-anchor="end" font-weight="normal" fill="#383838" stroke="#383838" stroke-width="0">80</text>
<path d="M380.70,48.62 H383.50" stroke="#1e1e1e" stroke-width="1.2" fill="none"/>
<text x="378.00" y="51.27" font-size="6.4" text-anchor="end" font-weight="normal" fill="#383838" stroke="#383838" stroke-width="0">100</text>
<path d="M380.70,35.60 H383.50" stroke="#1e1e1e" stroke-width="1.2" fill="none"/>
<text x="378.00" y="38.25" font-size="6.4" text-anchor="end" font-weight="normal" fill="#383838" stroke="#383838" stroke-width="0">120</text>
<path d="M380.90,113.75 H502.70" stroke="#1e1e1e" stroke-width="1.35" fill="none"/>
<path d="M383.50,113.75 V116.55" stroke="#1e1e1e" stroke-width="0.9" fill="none"/>
<path d="M390.49,113.75 V115.35" stroke="#1e1e1e" stroke-width="0.5" fill="none"/>
<path d="M394.58,113.75 V115.35" stroke="#1e1e1e" stroke-width="0.5" fill="none"/>
<path d="M397.48,113.75 V115.35" stroke="#1e1e1e" stroke-width="0.5" fill="none"/>
<path d="M399.73,113.75 V115.35" stroke="#1e1e1e" stroke-width="0.5" fill="none"/>
<path d="M401.57,113.75 V115.35" stroke="#1e1e1e" stroke-width="0.5" fill="none"/>
<path d="M403.12,113.75 V115.35" stroke="#1e1e1e" stroke-width="0.5" fill="none"/>
<path d="M404.47,113.75 V115.35" stroke="#1e1e1e" stroke-width="0.5" fill="none"/>
<path d="M405.66,113.75 V115.35" stroke="#1e1e1e" stroke-width="0.5" fill="none"/>
<path d="M406.72,113.75 V116.55" stroke="#1e1e1e" stroke-width="0.9" fill="none"/>
<path d="M413.71,113.75 V115.35" stroke="#1e1e1e" stroke-width="0.5" fill="none"/>
<path d="M417.80,113.75 V115.35" stroke="#1e1e1e" stroke-width="0.5" fill="none"/>
<path d="M420.70,113.75 V115.35" stroke="#1e1e1e" stroke-width="0.5" fill="none"/>
<path d="M422.95,113.75 V115.35" stroke="#1e1e1e" stroke-width="0.5" fill="none"/>
<path d="M424.79,113.75 V115.35" stroke="#1e1e1e" stroke-width="0.5" fill="none"/>
<path d="M426.34,113.75 V115.35" stroke="#1e1e1e" stroke-width="0.5" fill="none"/>
<path d="M427.69,113.75 V115.35" stroke="#1e1e1e" stroke-width="0.5" fill="none"/>
<path d="M428.88,113.75 V115.35" stroke="#1e1e1e" stroke-width="0.5" fill="none"/>
<path d="M429.94,113.75 V116.55" stroke="#1e1e1e" stroke-width="0.9" fill="none"/>
<path d="M436.93,113.75 V115.35" stroke="#1e1e1e" stroke-width="0.5" fill="none"/>
<path d="M441.02,113.75 V115.35" stroke="#1e1e1e" stroke-width="0.5" fill="none"/>
<path d="M443.92,113.75 V115.35" stroke="#1e1e1e" stroke-width="0.5" fill="none"/>
<path d="M446.17,113.75 V115.35" stroke="#1e1e1e" stroke-width="0.5" fill="none"/>
<path d="M448.01,113.75 V115.35" stroke="#1e1e1e" stroke-width="0.5" fill="none"/>
<path d="M449.56,113.75 V115.35" stroke="#1e1e1e" stroke-width="0.5" fill="none"/>
<path d="M450.91,113.75 V115.35" stroke="#1e1e1e" stroke-width="0.5" fill="none"/>
<path d="M452.10,113.75 V115.35" stroke="#1e1e1e" stroke-width="0.5" fill="none"/>
<path d="M453.16,113.75 V116.55" stroke="#1e1e1e" stroke-width="0.9" fill="none"/>
<path d="M460.15,113.75 V115.35" stroke="#1e1e1e" stroke-width="0.5" fill="none"/>
<path d="M464.24,113.75 V115.35" stroke="#1e1e1e" stroke-width="0.5" fill="none"/>
<path d="M467.14,113.75 V115.35" stroke="#1e1e1e" stroke-width="0.5" fill="none"/>
<path d="M469.39,113.75 V115.35" stroke="#1e1e1e" stroke-width="0.5" fill="none"/>
<path d="M471.23,113.75 V115.35" stroke="#1e1e1e" stroke-width="0.5" fill="none"/>
<path d="M472.78,113.75 V115.35" stroke="#1e1e1e" stroke-width="0.5" fill="none"/>
<path d="M474.13,113.75 V115.35" stroke="#1e1e1e" stroke-width="0.5" fill="none"/>
<path d="M475.32,113.75 V115.35" stroke="#1e1e1e" stroke-width="0.5" fill="none"/>
<path d="M476.38,113.75 V116.55" stroke="#1e1e1e" stroke-width="0.9" fill="none"/>
<path d="M483.37,113.75 V115.35" stroke="#1e1e1e" stroke-width="0.5" fill="none"/>
<path d="M487.46,113.75 V115.35" stroke="#1e1e1e" stroke-width="0.5" fill="none"/>
<path d="M490.36,113.75 V115.35" stroke="#1e1e1e" stroke-width="0.5" fill="none"/>
<path d="M492.61,113.75 V115.35" stroke="#1e1e1e" stroke-width="0.5" fill="none"/>
<path d="M494.45,113.75 V115.35" stroke="#1e1e1e" stroke-width="0.5" fill="none"/>
<path d="M496.00,113.75 V115.35" stroke="#1e1e1e" stroke-width="0.5" fill="none"/>
<path d="M497.35,113.75 V115.35" stroke="#1e1e1e" stroke-width="0.5" fill="none"/>
<path d="M498.54,113.75 V115.35" stroke="#1e1e1e" stroke-width="0.5" fill="none"/>
<path d="M499.60,113.75 V116.55" stroke="#1e1e1e" stroke-width="0.9" fill="none"/>
<text x="383.50" y="125.75" font-size="6.4" text-anchor="middle" font-weight="normal" fill="#383838" stroke="#383838" stroke-width="0">0.01</text>
<text x="406.72" y="125.75" font-size="6.4" text-anchor="middle" font-weight="normal" fill="#383838" stroke="#383838" stroke-width="0">0.1</text>
<text x="429.94" y="125.75" font-size="6.4" text-anchor="middle" font-weight="normal" fill="#383838" stroke="#383838" stroke-width="0">1</text>
<text x="453.16" y="125.75" font-size="6.4" text-anchor="middle" font-weight="normal" fill="#383838" stroke="#383838" stroke-width="0">10</text>
<text x="476.38" y="125.75" font-size="6.4" text-anchor="middle" font-weight="normal" fill="#383838" stroke="#383838" stroke-width="0">100</text>
<text x="499.60" y="125.75" font-size="6.4" text-anchor="middle" font-weight="normal" fill="#383838" stroke="#383838" stroke-width="0">1000</text>
<text x="361.20" y="74.10" font-size="7.7" text-anchor="middle" font-weight="normal" fill="#1a1a1a" stroke="#1a1a1a" stroke-width="0.3" textLength="47.20" lengthAdjust="spacingAndGlyphs" transform="rotate(-90 361.20 74.10)">AP activity (%BL)</text>
<text x="443.20" y="136.40" font-size="8.6" text-anchor="middle" font-weight="normal" fill="#1a1a1a" stroke="#1a1a1a" stroke-width="0.4" textLength="26.30" lengthAdjust="spacingAndGlyphs">Drug (nM)</text>
<path d="M456.30,48.40 H465.00" stroke="#24486c" stroke-width="1" fill="none"/>
<circle cx="460.65" cy="48.40" r="1.4" fill="#17324f"/>
<text x="468.50" y="50.70" font-size="6.5" text-anchor="start" font-weight="normal" fill="#222" stroke="#222" stroke-width="0.15" textLength="30.20" lengthAdjust="spacingAndGlyphs">Eculizumab</text>
<path d="M456.30,58.20 H465.00" stroke="#24486c" stroke-width="1" fill="none"/>
<path d="M460.65,56.51 L462.12,59.38 L459.18,59.38 Z" fill="#17324f"/>
<text x="468.50" y="60.50" font-size="6.5" text-anchor="start" font-weight="normal" fill="#222" stroke="#222" stroke-width="0.15" textLength="19.40" lengthAdjust="spacingAndGlyphs">CG001</text>
<path d="M383.50,50.14 L383.97,50.14 L384.44,50.14 L384.91,50.14 L385.38,50.14 L385.85,50.14 L386.32,50.14 L386.79,50.14 L387.26,50.14 L387.73,50.14 L388.20,50.14 L388.67,50.14 L389.14,50.14 L389.61,50.14 L390.08,50.14 L390.56,50.14 L391.03,50.14 L391.50,50.14 L391.97,50.14 L392.44,50.14 L392.91,50.14 L393.38,50.14 L393.85,50.14 L394.32,50.14 L394.79,50.14 L395.26,50.14 L395.73,50.14 L396.20,50.14 L396.67,50.14 L397.14,50.14 L397.61,50.14 L398.08,50.14 L398.55,50.14 L399.02,50.14 L399.49,50.14 L399.96,50.14 L400.43,50.14 L400.90,50.14 L401.37,50.14 L401.84,50.14 L402.31,50.14 L402.78,50.14 L403.25,50.14 L403.73,50.14 L404.20,50.14 L404.67,50.14 L405.14,50.14 L405.61,50.14 L406.08,50.14 L406.55,50.14 L407.02,50.14 L407.49,50.14 L407.96,50.14 L408.43,50.14 L408.90,50.14 L409.37,50.14 L409.84,50.14 L410.31,50.14 L410.78,50.14 L411.25,50.14 L411.72,50.14 L412.19,50.14 L412.66,50.14 L413.13,50.14 L413.60,50.14 L414.07,50.14 L414.54,50.14 L415.01,50.14 L415.48,50.14 L415.95,50.14 L416.42,50.14 L416.89,50.14 L417.37,50.14 L417.84,50.14 L418.31,50.14 L418.78,50.14 L419.25,50.14 L419.72,50.14 L420.19,50.14 L420.66,50.14 L421.13,50.14 L421.60,50.14 L422.07,50.14 L422.54,50.14 L423.01,50.15 L423.48,50.15 L423.95,50.15 L424.42,50.15 L424.89,50.15 L425.36,50.15 L425.83,50.16 L426.30,50.16 L426.77,50.16 L427.24,50.17 L427.71,50.17 L428.18,50.18 L428.65,50.18 L429.12,50.19 L429.59,50.20 L430.06,50.21 L430.54,50.22 L431.01,50.23 L431.48,50.24 L431.95,50.26 L432.42,50.28 L432.89,50.30 L433.36,50.32 L433.83,50.35 L434.30,50.39 L434.77,50.42 L435.24,50.47 L435.71,50.52 L436.18,50.58 L436.65,50.65 L437.12,50.73 L437.59,50.82 L438.06,50.93 L438.53,51.05 L439.00,51.19 L439.47,51.35 L439.94,51.54 L440.41,51.75 L440.88,51.99 L441.35,52.28 L441.82,52.60 L442.29,52.97 L442.76,53.39 L443.23,53.86 L443.71,54.41 L444.18,55.03 L444.65,55.73 L445.12,56.52 L445.59,57.40 L446.06,58.39 L446.53,59.50 L447.00,60.72 L447.47,62.07 L447.94,63.54 L448.41,65.15 L448.88,66.89 L449.35,68.75 L449.82,70.73 L450.29,72.81 L450.76,74.98 L451.23,77.22 L451.70,79.52 L452.17,81.84 L452.64,84.16 L453.11,86.46 L453.58,88.72 L454.05,90.91 L454.52,93.02 L454.99,95.02 L455.46,96.91 L455.93,98.68 L456.40,100.31 L456.87,101.82 L457.35,103.20 L457.82,104.45 L458.29,105.58 L458.76,106.60 L459.23,107.51 L459.70,108.32 L460.17,109.04 L460.64,109.68 L461.11,110.24 L461.58,110.73 L462.05,111.17 L462.52,111.55 L462.99,111.88 L463.46,112.17 L463.93,112.42 L464.40,112.64 L464.87,112.84 L465.34,113.00 L465.81,113.15 L466.28,113.27 L466.75,113.38 L467.22,113.48 L467.69,113.56 L468.16,113.63 L468.63,113.69 L469.10,113.75 L469.57,113.75 L470.04,113.75 L470.52,113.75 L470.99,113.75 L471.46,113.75 L471.93,113.75 L472.40,113.75 L472.87,113.75 L473.34,113.75 L473.81,113.75 L474.28,113.75 L474.75,113.75 L475.22,113.75 L475.69,113.75 L476.16,113.75 L476.63,113.75 L477.10,113.75" stroke="#24486c" stroke-width="1.2" fill="none"/>
<circle cx="383.50" cy="49.90" r="1.95" fill="#17324f"/>
<circle cx="406.80" cy="48.75" r="1.95" fill="#17324f"/>
<circle cx="422.90" cy="49.30" r="1.95" fill="#17324f"/>
<circle cx="430.50" cy="52.00" r="1.95" fill="#17324f"/>
<circle cx="446.60" cy="60.90" r="1.95" fill="#17324f"/>
<circle cx="453.70" cy="87.90" r="1.95" fill="#17324f"/>
<circle cx="460.70" cy="112.50" r="1.95" fill="#17324f"/>
<circle cx="470.20" cy="113.00" r="1.95" fill="#17324f"/>
<circle cx="477.10" cy="113.00" r="1.95" fill="#17324f"/>
<path d="M383.50,53.02 L383.81,53.02 L384.12,53.02 L384.43,53.02 L384.74,53.03 L385.05,53.03 L385.35,53.03 L385.66,53.03 L385.97,53.03 L386.28,53.03 L386.59,53.03 L386.90,53.04 L387.21,53.04 L387.52,53.04 L387.83,53.04 L388.14,53.05 L388.44,53.05 L388.75,53.05 L389.06,53.05 L389.37,53.06 L389.68,53.06 L389.99,53.06 L390.30,53.07 L390.61,53.07 L390.92,53.08 L391.23,53.08 L391.54,53.09 L391.84,53.09 L392.15,53.10 L392.46,53.10 L392.77,53.11 L393.08,53.11 L393.39,53.12 L393.70,53.13 L394.01,53.13 L394.32,53.14 L394.63,53.15 L394.93,53.16 L395.24,53.17 L395.55,53.18 L395.86,53.19 L396.17,53.20 L396.48,53.21 L396.79,53.22 L397.10,53.23 L397.41,53.24 L397.72,53.26 L398.03,53.27 L398.33,53.29 L398.64,53.30 L398.95,53.32 L399.26,53.34 L399.57,53.36 L399.88,53.38 L400.19,53.40 L400.50,53.42 L400.81,53.45 L401.12,53.47 L401.42,53.50 L401.73,53.53 L402.04,53.56 L402.35,53.59 L402.66,53.63 L402.97,53.66 L403.28,53.70 L403.59,53.74 L403.90,53.78 L404.21,53.82 L404.52,53.87 L404.82,53.92 L405.13,53.97 L405.44,54.03 L405.75,54.08 L406.06,54.14 L406.37,54.21 L406.68,54.28 L406.99,54.35 L407.30,54.42 L407.61,54.50 L407.91,54.59 L408.22,54.67 L408.53,54.77 L408.84,54.87 L409.15,54.97 L409.46,55.08 L409.77,55.19 L410.08,55.32 L410.39,55.44 L410.70,55.58 L411.01,55.72 L411.31,55.87 L411.62,56.02 L411.93,56.19 L412.24,56.36 L412.55,56.54 L412.86,56.73 L413.17,56.94 L413.48,57.15 L413.79,57.37 L414.10,57.60 L414.40,57.84 L414.71,58.10 L415.02,58.37 L415.33,58.65 L415.64,58.94 L415.95,59.25 L416.26,59.57 L416.57,59.91 L416.88,60.26 L417.19,60.63 L417.49,61.01 L417.80,61.41 L418.11,61.83 L418.42,62.26 L418.73,62.72 L419.04,63.19 L419.35,63.67 L419.66,64.18 L419.97,64.71 L420.28,65.25 L420.59,65.82 L420.89,66.40 L421.20,67.01 L421.51,67.63 L421.82,68.28 L422.13,68.94 L422.44,69.62 L422.75,70.32 L423.06,71.04 L423.37,71.78 L423.68,72.54 L423.98,73.31 L424.29,74.10 L424.60,74.91 L424.91,75.73 L425.22,76.57 L425.53,77.42 L425.84,78.28 L426.15,79.16 L426.46,80.04 L426.77,80.93 L427.08,81.84 L427.38,82.74 L427.69,83.66 L428.00,84.57 L428.31,85.49 L428.62,86.41 L428.93,87.33 L429.24,88.24 L429.55,89.16 L429.86,90.07 L430.17,90.97 L430.47,91.86 L430.78,92.75 L431.09,93.63 L431.40,94.49 L431.71,95.34 L432.02,96.18 L432.33,97.01 L432.64,97.82 L432.95,98.61 L433.26,99.39 L433.57,100.15 L433.87,100.90 L434.18,101.62 L434.49,102.33 L434.80,103.01 L435.11,103.68 L435.42,104.33 L435.73,104.96 L436.04,105.57 L436.35,106.15 L436.66,106.72 L436.96,107.27 L437.27,107.80 L437.58,108.32 L437.89,108.81 L438.20,109.28 L438.51,109.74 L438.82,110.18 L439.13,110.60 L439.44,111.00 L439.75,111.39 L440.06,111.76 L440.36,112.11 L440.67,112.45 L440.98,112.78 L441.29,113.09 L441.60,113.39 L441.91,113.67 L442.22,113.75 L442.53,113.75 L442.84,113.75 L443.15,113.75 L443.45,113.75 L443.76,113.75 L444.07,113.75 L444.38,113.75 L444.69,113.75 L445.00,113.75" stroke="#24486c" stroke-width="1.2" fill="none"/>
<path d="M406.80,55.50 V61.00 M405.20,55.50 H408.40 M405.20,61.00 H408.40" stroke="#5c7d9c" stroke-width="0.8" fill="none"/>
<path d="M415.70,60.00 V65.50 M414.10,60.00 H417.30 M414.10,65.50 H417.30" stroke="#5c7d9c" stroke-width="0.8" fill="none"/>
<path d="M422.90,67.00 V72.50 M421.30,67.00 H424.50 M421.30,72.50 H424.50" stroke="#5c7d9c" stroke-width="0.8" fill="none"/>
<path d="M430.40,86.50 V92.50 M428.80,86.50 H432.00 M428.80,92.50 H432.00" stroke="#5c7d9c" stroke-width="0.8" fill="none"/>
<path d="M392.70,52.35 L394.75,56.34 L390.65,56.34 Z" fill="#17324f"/>
<path d="M399.40,54.35 L401.45,58.34 L397.35,58.34 Z" fill="#17324f"/>
<path d="M406.75,55.95 L408.80,59.94 L404.70,59.94 Z" fill="#17324f"/>
<path d="M415.80,60.65 L417.85,64.64 L413.75,64.64 Z" fill="#17324f"/>
<path d="M423.30,66.85 L425.35,70.84 L421.25,70.84 Z" fill="#17324f"/>
<path d="M430.20,87.95 L432.25,91.94 L428.15,91.94 Z" fill="#17324f"/>
<path d="M440.80,110.65 L442.85,114.64 L438.75,114.64 Z" fill="#17324f"/>
<path d="M445.00,110.95 L447.05,114.94 L442.95,114.94 Z" fill="#17324f"/>
<text x="7.20" y="163.20" font-size="11" text-anchor="start" font-weight="bold" fill="#111" stroke="#111" stroke-width="0.5">D</text>
<text x="97.05" y="176.90" font-size="9" text-anchor="middle" font-weight="normal" fill="#222" stroke="#222" stroke-width="0.15" textLength="52.00" lengthAdjust="spacingAndGlyphs">FB-Dpl HS/CP</text>
<path d="M35.70,181.50 V266.80" stroke="#1e1e1e" stroke-width="1.35" fill="none"/>
<path d="M32.90,264.20 H35.70" stroke="#1e1e1e" stroke-width="1.2" fill="none"/>
<text x="30.20" y="266.85" font-size="6.4" text-anchor="end" font-weight="normal" fill="#383838" stroke="#383838" stroke-width="0">0</text>
<path d="M32.90,250.82 H35.70" stroke="#1e1e1e" stroke-width="1.2" fill="none"/>
<text x="30.20" y="253.47" font-size="6.4" text-anchor="end" font-weight="normal" fill="#383838" stroke="#383838" stroke-width="0">20</text>
<path d="M32.90,237.43 H35.70" stroke="#1e1e1e" stroke-width="1.2" fill="none"/>
<text x="30.20" y="240.08" font-size="6.4" text-anchor="end" font-weight="normal" fill="#383838" stroke="#383838" stroke-width="0">40</text>
<path d="M32.90,224.05 H35.70" stroke="#1e1e1e" stroke-width="1.2" fill="none"/>
<text x="30.20" y="226.70" font-size="6.4" text-anchor="end" font-weight="normal" fill="#383838" stroke="#383838" stroke-width="0">60</text>
<path d="M32.90,210.67 H35.70" stroke="#1e1e1e" stroke-width="1.2" fill="none"/>
<text x="30.20" y="213.32" font-size="6.4" text-anchor="end" font-weight="normal" fill="#383838" stroke="#383838" stroke-width="0">80</text>
<path d="M32.90,197.28 H35.70" stroke="#1e1e1e" stroke-width="1.2" fill="none"/>
<text x="30.20" y="199.93" font-size="6.4" text-anchor="end" font-weight="normal" fill="#383838" stroke="#383838" stroke-width="0">100</text>
<path d="M32.90,183.90 H35.70" stroke="#1e1e1e" stroke-width="1.2" fill="none"/>
<text x="30.20" y="186.55" font-size="6.4" text-anchor="end" font-weight="normal" fill="#383838" stroke="#383838" stroke-width="0">120</text>
<path d="M33.10,264.20 H158.50" stroke="#1e1e1e" stroke-width="1.35" fill="none"/>
<path d="M35.70,264.20 V267.00" stroke="#1e1e1e" stroke-width="0.9" fill="none"/>
<path d="M40.91,264.20 V265.80" stroke="#1e1e1e" stroke-width="0.5" fill="none"/>
<path d="M43.95,264.20 V265.80" stroke="#1e1e1e" stroke-width="0.5" fill="none"/>
<path d="M46.12,264.20 V265.80" stroke="#1e1e1e" stroke-width="0.5" fill="none"/>
<path d="M47.79,264.20 V265.80" stroke="#1e1e1e" stroke-width="0.5" fill="none"/>
<path d="M49.16,264.20 V265.80" stroke="#1e1e1e" stroke-width="0.5" fill="none"/>
<path d="M50.32,264.20 V265.80" stroke="#1e1e1e" stroke-width="0.5" fill="none"/>
<path d="M51.32,264.20 V265.80" stroke="#1e1e1e" stroke-width="0.5" fill="none"/>
<path d="M52.21,264.20 V265.80" stroke="#1e1e1e" stroke-width="0.5" fill="none"/>
<path d="M53.00,264.20 V267.00" stroke="#1e1e1e" stroke-width="0.9" fill="none"/>
<path d="M58.21,264.20 V265.80" stroke="#1e1e1e" stroke-width="0.5" fill="none"/>
<path d="M61.25,264.20 V265.80" stroke="#1e1e1e" stroke-width="0.5" fill="none"/>
<path d="M63.42,264.20 V265.80" stroke="#1e1e1e" stroke-width="0.5" fill="none"/>
<path d="M65.09,264.20 V265.80" stroke="#1e1e1e" stroke-width="0.5" fill="none"/>
<path d="M66.46,264.20 V265.80" stroke="#1e1e1e" stroke-width="0.5" fill="none"/>
<path d="M67.62,264.20 V265.80" stroke="#1e1e1e" stroke-width="0.5" fill="none"/>
<path d="M68.62,264.20 V265.80" stroke="#1e1e1e" stroke-width="0.5" fill="none"/>
<path d="M69.51,264.20 V265.80" stroke="#1e1e1e" stroke-width="0.5" fill="none"/>
<path d="M70.30,264.20 V267.00" stroke="#1e1e1e" stroke-width="0.9" fill="none"/>
<path d="M75.51,264.20 V265.80" stroke="#1e1e1e" stroke-width="0.5" fill="none"/>
<path d="M78.55,264.20 V265.80" stroke="#1e1e1e" stroke-width="0.5" fill="none"/>
<path d="M80.72,264.20 V265.80" stroke="#1e1e1e" stroke-width="0.5" fill="none"/>
<path d="M82.39,264.20 V265.80" stroke="#1e1e1e" stroke-width="0.5" fill="none"/>
<path d="M83.76,264.20 V265.80" stroke="#1e1e1e" stroke-width="0.5" fill="none"/>
<path d="M84.92,264.20 V265.80" stroke="#1e1e1e" stroke-width="0.5" fill="none"/>
<path d="M85.92,264.20 V265.80" stroke="#1e1e1e" stroke-width="0.5" fill="none"/>
<path d="M86.81,264.20 V265.80" stroke="#1e1e1e" stroke-width="0.5" fill="none"/>
<path d="M87.60,264.20 V267.00" stroke="#1e1e1e" stroke-width="0.9" fill="none"/>
<path d="M92.81,264.20 V265.80" stroke="#1e1e1e" stroke-width="0.5" fill="none"/>
<path d="M95.85,264.20 V265.80" stroke="#1e1e1e" stroke-width="0.5" fill="none"/>
<path d="M98.02,264.20 V265.80" stroke="#1e1e1e" stroke-width="0.5" fill="none"/>
<path d="M99.69,264.20 V265.80" stroke="#1e1e1e" stroke-width="0.5" fill="none"/>
<path d="M101.06,264.20 V265.80" stroke="#1e1e1e" stroke-width="0.5" fill="none"/>
<path d="M102.22,264.20 V265.80" stroke="#1e1e1e" stroke-width="0.5" fill="none"/>
<path d="M103.22,264.20 V265.80" stroke="#1e1e1e" stroke-width="0.5" fill="none"/>
<path d="M104.11,264.20 V265.80" stroke="#1e1e1e" stroke-width="0.5" fill="none"/>
<path d="M104.90,264.20 V267.00" stroke="#1e1e1e" stroke-width="0.9" fill="none"/>
<path d="M110.11,264.20 V265.80" stroke="#1e1e1e" stroke-width="0.5" fill="none"/>
<path d="M113.15,264.20 V265.80" stroke="#1e1e1e" stroke-width="0.5" fill="none"/>
<path d="M115.32,264.20 V265.80" stroke="#1e1e1e" stroke-width="0.5" fill="none"/>
<path d="M116.99,264.20 V265.80" stroke="#1e1e1e" stroke-width="0.5" fill="none"/>
<path d="M118.36,264.20 V265.80" stroke="#1e1e1e" stroke-width="0.5" fill="none"/>
<path d="M119.52,264.20 V265.80" stroke="#1e1e1e" stroke-width="0.5" fill="none"/>
<path d="M120.52,264.20 V265.80" stroke="#1e1e1e" stroke-width="0.5" fill="none"/>
<path d="M121.41,264.20 V265.80" stroke="#1e1e1e" stroke-width="0.5" fill="none"/>
<path d="M122.20,264.20 V267.00" stroke="#1e1e1e" stroke-width="0.9" fill="none"/>
<path d="M127.41,264.20 V265.80" stroke="#1e1e1e" stroke-width="0.5" fill="none"/>
<path d="M130.45,264.20 V265.80" stroke="#1e1e1e" stroke-width="0.5" fill="none"/>
<path d="M132.62,264.20 V265.80" stroke="#1e1e1e" stroke-width="0.5" fill="none"/>
<path d="M134.29,264.20 V265.80" stroke="#1e1e1e" stroke-width="0.5" fill="none"/>
<path d="M135.66,264.20 V265.80" stroke="#1e1e1e" stroke-width="0.5" fill="none"/>
<path d="M136.82,264.20 V265.80" stroke="#1e1e1e" stroke-width="0.5" fill="none"/>
<path d="M137.82,264.20 V265.80" stroke="#1e1e1e" stroke-width="0.5" fill="none"/>
<path d="M138.71,264.20 V265.80" stroke="#1e1e1e" stroke-width="0.5" fill="none"/>
<path d="M139.50,264.20 V267.00" stroke="#1e1e1e" stroke-width="0.9" fill="none"/>
<path d="M144.71,264.20 V265.80" stroke="#1e1e1e" stroke-width="0.5" fill="none"/>
<path d="M147.75,264.20 V265.80" stroke="#1e1e1e" stroke-width="0.5" fill="none"/>
<path d="M149.92,264.20 V265.80" stroke="#1e1e1e" stroke-width="0.5" fill="none"/>
<path d="M151.59,264.20 V265.80" stroke="#1e1e1e" stroke-width="0.5" fill="none"/>
<path d="M152.96,264.20 V265.80" stroke="#1e1e1e" stroke-width="0.5" fill="none"/>
<path d="M154.12,264.20 V265.80" stroke="#1e1e1e" stroke-width="0.5" fill="none"/>
<path d="M155.12,264.20 V265.80" stroke="#1e1e1e" stroke-width="0.5" fill="none"/>
<path d="M156.01,264.20 V265.80" stroke="#1e1e1e" stroke-width="0.5" fill="none"/>
<path d="M156.80,264.20 V267.00" stroke="#1e1e1e" stroke-width="0.9" fill="none"/>
<text x="35.70" y="276.20" font-size="6.4" text-anchor="middle" font-weight="normal" fill="#383838" stroke="#383838" stroke-width="0">0.001</text>
<text x="53.00" y="276.20" font-size="6.4" text-anchor="middle" font-weight="normal" fill="#383838" stroke="#383838" stroke-width="0">0.01</text>
<text x="70.30" y="276.20" font-size="6.4" text-anchor="middle" font-weight="normal" fill="#383838" stroke="#383838" stroke-width="0">0.1</text>
<text x="87.60" y="276.20" font-size="6.4" text-anchor="middle" font-weight="normal" fill="#383838" stroke="#383838" stroke-width="0">1</text>
<text x="104.90" y="276.20" font-size="6.4" text-anchor="middle" font-weight="normal" fill="#383838" stroke="#383838" stroke-width="0">10</text>
<text x="122.20" y="276.20" font-size="6.4" text-anchor="middle" font-weight="normal" fill="#383838" stroke="#383838" stroke-width="0">100</text>
<text x="139.50" y="276.20" font-size="6.4" text-anchor="middle" font-weight="normal" fill="#383838" stroke="#383838" stroke-width="0">1000</text>
<text x="156.80" y="276.20" font-size="6.4" text-anchor="middle" font-weight="normal" fill="#383838" stroke="#383838" stroke-width="0">10000</text>
<text x="13.40" y="223.20" font-size="7.7" text-anchor="middle" font-weight="normal" fill="#1a1a1a" stroke="#1a1a1a" stroke-width="0.3" textLength="47.20" lengthAdjust="spacingAndGlyphs" transform="rotate(-90 13.40 223.20)">CP activity (%BL)</text>
<text x="97.50" y="287.40" font-size="8.6" text-anchor="middle" font-weight="normal" fill="#1a1a1a" stroke="#1a1a1a" stroke-width="0.4" textLength="31.30" lengthAdjust="spacingAndGlyphs">CG001 (nM)</text>
<path d="M35.70,196.38 L36.28,196.41 L36.86,196.43 L37.43,196.46 L38.01,196.49 L38.59,196.52 L39.17,196.54 L39.75,196.57 L40.33,196.61 L40.90,196.64 L41.48,196.67 L42.06,196.71 L42.64,196.74 L43.22,196.78 L43.79,196.82 L44.37,196.86 L44.95,196.90 L45.53,196.94 L46.11,196.99 L46.68,197.04 L47.26,197.08 L47.84,197.13 L48.42,197.18 L49.00,197.24 L49.58,197.29 L50.15,197.35 L50.73,197.41 L51.31,197.47 L51.89,197.53 L52.47,197.60 L53.04,197.67 L53.62,197.74 L54.20,197.81 L54.78,197.88 L55.36,197.96 L55.93,198.04 L56.51,198.13 L57.09,198.21 L57.67,198.30 L58.25,198.39 L58.83,198.49 L59.40,198.58 L59.98,198.69 L60.56,198.79 L61.14,198.90 L61.72,199.01 L62.29,199.13 L62.87,199.25 L63.45,199.37 L64.03,199.50 L64.61,199.63 L65.19,199.76 L65.76,199.90 L66.34,200.05 L66.92,200.20 L67.50,200.35 L68.08,200.51 L68.65,200.67 L69.23,200.84 L69.81,201.02 L70.39,201.20 L70.97,201.38 L71.54,201.57 L72.12,201.76 L72.70,201.97 L73.28,202.17 L73.86,202.39 L74.44,202.60 L75.01,202.83 L75.59,203.06 L76.17,203.30 L76.75,203.54 L77.33,203.79 L77.90,204.05 L78.48,204.32 L79.06,204.59 L79.64,204.87 L80.22,205.15 L80.79,205.44 L81.37,205.74 L81.95,206.05 L82.53,206.36 L83.11,206.68 L83.69,207.01 L84.26,207.35 L84.84,207.69 L85.42,208.04 L86.00,208.40 L86.58,208.76 L87.15,209.14 L87.73,209.52 L88.31,209.90 L88.89,210.30 L89.47,210.70 L90.05,211.11 L90.62,211.52 L91.20,211.94 L91.78,212.37 L92.36,212.81 L92.94,213.25 L93.51,213.70 L94.09,214.15 L94.67,214.61 L95.25,215.07 L95.83,215.54 L96.40,216.02 L96.98,216.50 L97.56,216.99 L98.14,217.48 L98.72,217.97 L99.30,218.47 L99.87,218.97 L100.45,219.47 L101.03,219.98 L101.61,220.49 L102.19,221.01 L102.76,221.52 L103.34,222.04 L103.92,222.55 L104.50,223.07 L105.08,223.59 L105.66,224.11 L106.23,224.63 L106.81,225.15 L107.39,225.67 L107.97,226.19 L108.55,226.70 L109.12,227.22 L109.70,227.73 L110.28,228.24 L110.86,228.75 L111.44,229.25 L112.01,229.75 L112.59,230.25 L113.17,230.74 L113.75,231.23 L114.33,231.71 L114.91,232.19 L115.48,232.66 L116.06,233.13 L116.64,233.59 L117.22,234.05 L117.80,234.50 L118.37,234.95 L118.95,235.39 L119.53,235.82 L120.11,236.25 L120.69,236.66 L121.26,237.08 L121.84,237.48 L122.42,237.88 L123.00,238.27 L123.58,238.66 L124.16,239.03 L124.73,239.40 L125.31,239.77 L125.89,240.12 L126.47,240.47 L127.05,240.81 L127.62,241.14 L128.20,241.47 L128.78,241.78 L129.36,242.10 L129.94,242.40 L130.52,242.70 L131.09,242.99 L131.67,243.27 L132.25,243.54 L132.83,243.81 L133.41,244.07 L133.98,244.33 L134.56,244.58 L135.14,244.82 L135.72,245.06 L136.30,245.28 L136.87,245.51 L137.45,245.72 L138.03,245.93 L138.61,246.14 L139.19,246.34 L139.77,246.53 L140.34,246.72 L140.92,246.90 L141.50,247.08 L142.08,247.25 L142.66,247.42 L143.23,247.58 L143.81,247.73 L144.39,247.89 L144.97,248.03 L145.55,248.18 L146.12,248.32 L146.70,248.45 L147.28,248.58 L147.86,248.71 L148.44,248.83 L149.02,248.94 L149.59,249.06 L150.17,249.17 L150.75,249.28" stroke="#24486c" stroke-width="1.2" fill="none"/>
<path d="M52.50,195.80 V200.20 M50.90,195.80 H54.10 M50.90,200.20 H54.10" stroke="#5c7d9c" stroke-width="0.8" fill="none"/>
<path d="M69.50,195.30 V202.20 M67.90,195.30 H71.10 M67.90,202.20 H71.10" stroke="#5c7d9c" stroke-width="0.8" fill="none"/>
<path d="M98.75,215.00 V220.00 M97.15,215.00 H100.35 M97.15,220.00 H100.35" stroke="#5c7d9c" stroke-width="0.8" fill="none"/>
<circle cx="35.50" cy="197.00" r="1.95" fill="#17324f"/>
<circle cx="52.50" cy="198.00" r="1.95" fill="#17324f"/>
<circle cx="69.50" cy="198.75" r="1.95" fill="#17324f"/>
<circle cx="87.00" cy="210.75" r="1.95" fill="#17324f"/>
<circle cx="98.75" cy="217.50" r="1.95" fill="#17324f"/>
<circle cx="116.25" cy="233.25" r="1.95" fill="#17324f"/>
<circle cx="133.25" cy="243.75" r="1.95" fill="#17324f"/>
<circle cx="150.75" cy="249.50" r="1.95" fill="#17324f"/>
<text x="180.70" y="163.20" font-size="11" text-anchor="start" font-weight="bold" fill="#111" stroke="#111" stroke-width="0.5">E</text>
<text x="270.70" y="176.90" font-size="9" text-anchor="middle" font-weight="normal" fill="#222" stroke="#222" stroke-width="0.15" textLength="52.70" lengthAdjust="spacingAndGlyphs">C4-Dpl HS/AP</text>
<path d="M208.90,181.50 V266.90" stroke="#1e1e1e" stroke-width="1.35" fill="none"/>
<path d="M206.10,264.30 H208.90" stroke="#1e1e1e" stroke-width="1.2" fill="none"/>
<text x="203.40" y="266.95" font-size="6.4" text-anchor="end" font-weight="normal" fill="#383838" stroke="#383838" stroke-width="0">0</text>
<path d="M206.10,252.81 H208.90" stroke="#1e1e1e" stroke-width="1.2" fill="none"/>
<text x="203.40" y="255.46" font-size="6.4" text-anchor="end" font-weight="normal" fill="#383838" stroke="#383838" stroke-width="0">20</text>
<path d="M206.10,241.33 H208.90" stroke="#1e1e1e" stroke-width="1.2" fill="none"/>
<text x="203.40" y="243.98" font-size="6.4" text-anchor="end" font-weight="normal" fill="#383838" stroke="#383838" stroke-width="0">40</text>
<path d="M206.10,229.84 H208.90" stroke="#1e1e1e" stroke-width="1.2" fill="none"/>
<text x="203.40" y="232.49" font-size="6.4" text-anchor="end" font-weight="normal" fill="#383838" stroke="#383838" stroke-width="0">60</text>
<path d="M206.10,218.36 H208.90" stroke="#1e1e1e" stroke-width="1.2" fill="none"/>
<text x="203.40" y="221.01" font-size="6.4" text-anchor="end" font-weight="normal" fill="#383838" stroke="#383838" stroke-width="0">80</text>
<path d="M206.10,206.87 H208.90" stroke="#1e1e1e" stroke-width="1.2" fill="none"/>
<text x="203.40" y="209.52" font-size="6.4" text-anchor="end" font-weight="normal" fill="#383838" stroke="#383838" stroke-width="0">100</text>
<path d="M206.10,195.39 H208.90" stroke="#1e1e1e" stroke-width="1.2" fill="none"/>
<text x="203.40" y="198.04" font-size="6.4" text-anchor="end" font-weight="normal" fill="#383838" stroke="#383838" stroke-width="0">120</text>
<path d="M206.10,183.90 H208.90" stroke="#1e1e1e" stroke-width="1.2" fill="none"/>
<text x="203.40" y="186.55" font-size="6.4" text-anchor="end" font-weight="normal" fill="#383838" stroke="#383838" stroke-width="0">140</text>
<path d="M206.30,264.30 H331.80" stroke="#1e1e1e" stroke-width="1.35" fill="none"/>
<path d="M208.90,264.30 V267.10" stroke="#1e1e1e" stroke-width="0.9" fill="none"/>
<path d="M216.17,264.30 V265.90" stroke="#1e1e1e" stroke-width="0.5" fill="none"/>
<path d="M220.42,264.30 V265.90" stroke="#1e1e1e" stroke-width="0.5" fill="none"/>
<path d="M223.43,264.30 V265.90" stroke="#1e1e1e" stroke-width="0.5" fill="none"/>
<path d="M225.77,264.30 V265.90" stroke="#1e1e1e" stroke-width="0.5" fill="none"/>
<path d="M227.68,264.30 V265.90" stroke="#1e1e1e" stroke-width="0.5" fill="none"/>
<path d="M229.30,264.30 V265.90" stroke="#1e1e1e" stroke-width="0.5" fill="none"/>
<path d="M230.70,264.30 V265.90" stroke="#1e1e1e" stroke-width="0.5" fill="none"/>
<path d="M231.94,264.30 V265.90" stroke="#1e1e1e" stroke-width="0.5" fill="none"/>
<path d="M233.04,264.30 V267.10" stroke="#1e1e1e" stroke-width="0.9" fill="none"/>
<path d="M240.31,264.30 V265.90" stroke="#1e1e1e" stroke-width="0.5" fill="none"/>
<path d="M244.56,264.30 V265.90" stroke="#1e1e1e" stroke-width="0.5" fill="none"/>
<path d="M247.57,264.30 V265.90" stroke="#1e1e1e" stroke-width="0.5" fill="none"/>
<path d="M249.91,264.30 V265.90" stroke="#1e1e1e" stroke-width="0.5" fill="none"/>
<path d="M251.82,264.30 V265.90" stroke="#1e1e1e" stroke-width="0.5" fill="none"/>
<path d="M253.44,264.30 V265.90" stroke="#1e1e1e" stroke-width="0.5" fill="none"/>
<path d="M254.84,264.30 V265.90" stroke="#1e1e1e" stroke-width="0.5" fill="none"/>
<path d="M256.08,264.30 V265.90" stroke="#1e1e1e" stroke-width="0.5" fill="none"/>
<path d="M257.18,264.30 V267.10" stroke="#1e1e1e" stroke-width="0.9" fill="none"/>
<path d="M264.45,264.30 V265.90" stroke="#1e1e1e" stroke-width="0.5" fill="none"/>
<path d="M268.70,264.30 V265.90" stroke="#1e1e1e" stroke-width="0.5" fill="none"/>
<path d="M271.71,264.30 V265.90" stroke="#1e1e1e" stroke-width="0.5" fill="none"/>
<path d="M274.05,264.30 V265.90" stroke="#1e1e1e" stroke-width="0.5" fill="none"/>
<path d="M275.96,264.30 V265.90" stroke="#1e1e1e" stroke-width="0.5" fill="none"/>
<path d="M277.58,264.30 V265.90" stroke="#1e1e1e" stroke-width="0.5" fill="none"/>
<path d="M278.98,264.30 V265.90" stroke="#1e1e1e" stroke-width="0.5" fill="none"/>
<path d="M280.22,264.30 V265.90" stroke="#1e1e1e" stroke-width="0.5" fill="none"/>
<path d="M281.32,264.30 V267.10" stroke="#1e1e1e" stroke-width="0.9" fill="none"/>
<path d="M288.59,264.30 V265.90" stroke="#1e1e1e" stroke-width="0.5" fill="none"/>
<path d="M292.84,264.30 V265.90" stroke="#1e1e1e" stroke-width="0.5" fill="none"/>
<path d="M295.85,264.30 V265.90" stroke="#1e1e1e" stroke-width="0.5" fill="none"/>
<path d="M298.19,264.30 V265.90" stroke="#1e1e1e" stroke-width="0.5" fill="none"/>
<path d="M300.10,264.30 V265.90" stroke="#1e1e1e" stroke-width="0.5" fill="none"/>
<path d="M301.72,264.30 V265.90" stroke="#1e1e1e" stroke-width="0.5" fill="none"/>
<path d="M303.12,264.30 V265.90" stroke="#1e1e1e" stroke-width="0.5" fill="none"/>
<path d="M304.36,264.30 V265.90" stroke="#1e1e1e" stroke-width="0.5" fill="none"/>
<path d="M305.46,264.30 V267.10" stroke="#1e1e1e" stroke-width="0.9" fill="none"/>
<path d="M312.73,264.30 V265.90" stroke="#1e1e1e" stroke-width="0.5" fill="none"/>
<path d="M316.98,264.30 V265.90" stroke="#1e1e1e" stroke-width="0.5" fill="none"/>
<path d="M319.99,264.30 V265.90" stroke="#1e1e1e" stroke-width="0.5" fill="none"/>
<path d="M322.33,264.30 V265.90" stroke="#1e1e1e" stroke-width="0.5" fill="none"/>
<path d="M324.24,264.30 V265.90" stroke="#1e1e1e" stroke-width="0.5" fill="none"/>
<path d="M325.86,264.30 V265.90" stroke="#1e1e1e" stroke-width="0.5" fill="none"/>
<path d="M327.26,264.30 V265.90" stroke="#1e1e1e" stroke-width="0.5" fill="none"/>
<path d="M328.50,264.30 V265.90" stroke="#1e1e1e" stroke-width="0.5" fill="none"/>
<path d="M329.60,264.30 V267.10" stroke="#1e1e1e" stroke-width="0.9" fill="none"/>
<text x="208.90" y="276.30" font-size="6.4" text-anchor="middle" font-weight="normal" fill="#383838" stroke="#383838" stroke-width="0">0.001</text>
<text x="233.04" y="276.30" font-size="6.4" text-anchor="middle" font-weight="normal" fill="#383838" stroke="#383838" stroke-width="0">0.01</text>
<text x="257.18" y="276.30" font-size="6.4" text-anchor="middle" font-weight="normal" fill="#383838" stroke="#383838" stroke-width="0">0.1</text>
<text x="281.32" y="276.30" font-size="6.4" text-anchor="middle" font-weight="normal" fill="#383838" stroke="#383838" stroke-width="0">1</text>
<text x="305.46" y="276.30" font-size="6.4" text-anchor="middle" font-weight="normal" fill="#383838" stroke="#383838" stroke-width="0">10</text>
<text x="329.60" y="276.30" font-size="6.4" text-anchor="middle" font-weight="normal" fill="#383838" stroke="#383838" stroke-width="0">100</text>
<text x="186.80" y="223.20" font-size="7.7" text-anchor="middle" font-weight="normal" fill="#1a1a1a" stroke="#1a1a1a" stroke-width="0.3" textLength="47.20" lengthAdjust="spacingAndGlyphs" transform="rotate(-90 186.80 223.20)">AP activity (%BL)</text>
<text x="270.40" y="286.80" font-size="8.6" text-anchor="middle" font-weight="normal" fill="#1a1a1a" stroke="#1a1a1a" stroke-width="0.4" textLength="31.30" lengthAdjust="spacingAndGlyphs">CG001 (nM)</text>
<path d="M208.90,205.80 L209.38,205.80 L209.87,205.80 L210.35,205.80 L210.83,205.80 L211.31,205.80 L211.80,205.80 L212.28,205.80 L212.76,205.80 L213.25,205.80 L213.73,205.80 L214.21,205.80 L214.69,205.80 L215.18,205.80 L215.66,205.80 L216.14,205.80 L216.63,205.80 L217.11,205.80 L217.59,205.80 L218.08,205.80 L218.56,205.80 L219.04,205.80 L219.52,205.80 L220.01,205.80 L220.49,205.80 L220.97,205.80 L221.46,205.80 L221.94,205.80 L222.42,205.80 L222.90,205.80 L223.39,205.80 L223.87,205.80 L224.35,205.80 L224.84,205.80 L225.32,205.80 L225.80,205.80 L226.28,205.80 L226.77,205.80 L227.25,205.80 L227.73,205.80 L228.22,205.80 L228.70,205.80 L229.18,205.81 L229.67,205.81 L230.15,205.81 L230.63,205.81 L231.11,205.81 L231.60,205.81 L232.08,205.81 L232.56,205.81 L233.05,205.81 L233.53,205.81 L234.01,205.81 L234.49,205.81 L234.98,205.81 L235.46,205.82 L235.94,205.82 L236.43,205.82 L236.91,205.82 L237.39,205.82 L237.87,205.83 L238.36,205.83 L238.84,205.83 L239.32,205.83 L239.81,205.84 L240.29,205.84 L240.77,205.84 L241.26,205.85 L241.74,205.85 L242.22,205.86 L242.70,205.86 L243.19,205.87 L243.67,205.88 L244.15,205.88 L244.64,205.89 L245.12,205.90 L245.60,205.91 L246.08,205.92 L246.57,205.93 L247.05,205.94 L247.53,205.95 L248.02,205.97 L248.50,205.98 L248.98,206.00 L249.46,206.02 L249.95,206.04 L250.43,206.06 L250.91,206.09 L251.40,206.12 L251.88,206.15 L252.36,206.18 L252.85,206.21 L253.33,206.25 L253.81,206.29 L254.29,206.34 L254.78,206.39 L255.26,206.44 L255.74,206.50 L256.23,206.57 L256.71,206.64 L257.19,206.72 L257.67,206.80 L258.16,206.90 L258.64,207.00 L259.12,207.11 L259.61,207.23 L260.09,207.36 L260.57,207.50 L261.05,207.66 L261.54,207.82 L262.02,208.01 L262.50,208.21 L262.99,208.42 L263.47,208.66 L263.95,208.91 L264.44,209.19 L264.92,209.49 L265.40,209.81 L265.88,210.16 L266.37,210.54 L266.85,210.95 L267.33,211.39 L267.82,211.86 L268.30,212.37 L268.78,212.91 L269.26,213.49 L269.75,214.12 L270.23,214.78 L270.71,215.49 L271.20,216.25 L271.68,217.05 L272.16,217.89 L272.64,218.78 L273.13,219.72 L273.61,220.71 L274.09,221.74 L274.58,222.82 L275.06,223.94 L275.54,225.10 L276.03,226.30 L276.51,227.54 L276.99,228.81 L277.47,230.10 L277.96,231.42 L278.44,232.76 L278.92,234.10 L279.41,235.46 L279.89,236.82 L280.37,238.18 L280.85,239.53 L281.34,240.86 L281.82,242.18 L282.30,243.47 L282.79,244.74 L283.27,245.97 L283.75,247.17 L284.23,248.33 L284.72,249.45 L285.20,250.52 L285.68,251.55 L286.17,252.53 L286.65,253.47 L287.13,254.36 L287.62,255.20 L288.10,256.00 L288.58,256.75 L289.06,257.46 L289.55,258.12 L290.03,258.74 L290.51,259.32 L291.00,259.86 L291.48,260.37 L291.96,260.84 L292.44,261.27 L292.93,261.68 L293.41,262.05 L293.89,262.40 L294.38,262.72 L294.86,263.02 L295.34,263.30 L295.82,263.55 L296.31,263.78 L296.79,264.00 L297.27,264.20 L297.76,264.30 L298.24,264.30 L298.72,264.30 L299.21,264.30 L299.69,264.30 L300.17,264.30 L300.65,264.30 L301.14,264.30 L301.62,264.30 L302.10,264.30 L302.59,264.30 L303.07,264.30 L303.55,264.30 L304.03,264.30 L304.52,264.30 L305.00,264.30" stroke="#24486c" stroke-width="1.2" fill="none"/>
<path d="M233.10,204.80 V209.60 M231.50,204.80 H234.70 M231.50,209.60 H234.70" stroke="#5c7d9c" stroke-width="0.8" fill="none"/>
<path d="M242.60,201.40 V211.00 M241.00,201.40 H244.20 M241.00,211.00 H244.20" stroke="#5c7d9c" stroke-width="0.8" fill="none"/>
<path d="M249.80,192.55 V205.80 M248.20,192.55 H251.40 M248.20,205.80 H251.40" stroke="#5c7d9c" stroke-width="0.8" fill="none"/>
<path d="M257.50,205.80 V209.80 M255.90,205.80 H259.10 M255.90,209.80 H259.10" stroke="#5c7d9c" stroke-width="0.8" fill="none"/>
<circle cx="209.20" cy="206.20" r="1.95" fill="#17324f"/>
<circle cx="233.10" cy="207.20" r="1.95" fill="#17324f"/>
<circle cx="242.60" cy="206.20" r="1.95" fill="#17324f"/>
<circle cx="249.80" cy="199.25" r="1.95" fill="#17324f"/>
<circle cx="257.50" cy="207.80" r="1.95" fill="#17324f"/>
<circle cx="266.80" cy="212.50" r="1.95" fill="#17324f"/>
<circle cx="273.75" cy="221.00" r="1.95" fill="#17324f"/>
<circle cx="281.20" cy="238.90" r="1.95" fill="#17324f"/>
<circle cx="290.70" cy="262.20" r="1.95" fill="#17324f"/>
<circle cx="297.70" cy="264.30" r="1.95" fill="#17324f"/>
<circle cx="305.00" cy="264.30" r="1.95" fill="#17324f"/>
<text x="355.10" y="163.20" font-size="11" text-anchor="start" font-weight="bold" fill="#111" stroke="#111" stroke-width="0.5">F</text>
<text x="445.20" y="176.90" font-size="9" text-anchor="middle" font-weight="normal" fill="#222" stroke="#222" stroke-width="0.15" textLength="32.80" lengthAdjust="spacingAndGlyphs">NMS/CP</text>
<path d="M383.30,181.50 V266.80" stroke="#1e1e1e" stroke-width="1.35" fill="none"/>
<path d="M380.50,264.20 H383.30" stroke="#1e1e1e" stroke-width="1.2" fill="none"/>
<text x="377.80" y="266.85" font-size="6.4" text-anchor="end" font-weight="normal" fill="#383838" stroke="#383838" stroke-width="0">0</text>
<path d="M380.50,250.82 H383.30" stroke="#1e1e1e" stroke-width="1.2" fill="none"/>
<text x="377.80" y="253.47" font-size="6.4" text-anchor="end" font-weight="normal" fill="#383838" stroke="#383838" stroke-width="0">20</text>
<path d="M380.50,237.43 H383.30" stroke="#1e1e1e" stroke-width="1.2" fill="none"/>
<text x="377.80" y="240.08" font-size="6.4" text-anchor="end" font-weight="normal" fill="#383838" stroke="#383838" stroke-width="0">40</text>
<path d="M380.50,224.05 H383.30" stroke="#1e1e1e" stroke-width="1.2" fill="none"/>
<text x="377.80" y="226.70" font-size="6.4" text-anchor="end" font-weight="normal" fill="#383838" stroke="#383838" stroke-width="0">60</text>
<path d="M380.50,210.67 H383.30" stroke="#1e1e1e" stroke-width="1.2" fill="none"/>
<text x="377.80" y="213.32" font-size="6.4" text-anchor="end" font-weight="normal" fill="#383838" stroke="#383838" stroke-width="0">80</text>
<path d="M380.50,197.28 H383.30" stroke="#1e1e1e" stroke-width="1.2" fill="none"/>
<text x="377.80" y="199.93" font-size="6.4" text-anchor="end" font-weight="normal" fill="#383838" stroke="#383838" stroke-width="0">100</text>
<path d="M380.50,183.90 H383.30" stroke="#1e1e1e" stroke-width="1.2" fill="none"/>
<text x="377.80" y="186.55" font-size="6.4" text-anchor="end" font-weight="normal" fill="#383838" stroke="#383838" stroke-width="0">120</text>
<path d="M380.70,264.20 H506.00" stroke="#1e1e1e" stroke-width="1.35" fill="none"/>
<path d="M383.30,264.20 V267.00" stroke="#1e1e1e" stroke-width="0.9" fill="none"/>
<path d="M388.48,264.20 V265.80" stroke="#1e1e1e" stroke-width="0.5" fill="none"/>
<path d="M391.51,264.20 V265.80" stroke="#1e1e1e" stroke-width="0.5" fill="none"/>
<path d="M393.66,264.20 V265.80" stroke="#1e1e1e" stroke-width="0.5" fill="none"/>
<path d="M395.33,264.20 V265.80" stroke="#1e1e1e" stroke-width="0.5" fill="none"/>
<path d="M396.69,264.20 V265.80" stroke="#1e1e1e" stroke-width="0.5" fill="none"/>
<path d="M397.84,264.20 V265.80" stroke="#1e1e1e" stroke-width="0.5" fill="none"/>
<path d="M398.84,264.20 V265.80" stroke="#1e1e1e" stroke-width="0.5" fill="none"/>
<path d="M399.72,264.20 V265.80" stroke="#1e1e1e" stroke-width="0.5" fill="none"/>
<path d="M400.51,264.20 V267.00" stroke="#1e1e1e" stroke-width="0.9" fill="none"/>
<path d="M405.69,264.20 V265.80" stroke="#1e1e1e" stroke-width="0.5" fill="none"/>
<path d="M408.72,264.20 V265.80" stroke="#1e1e1e" stroke-width="0.5" fill="none"/>
<path d="M410.87,264.20 V265.80" stroke="#1e1e1e" stroke-width="0.5" fill="none"/>
<path d="M412.54,264.20 V265.80" stroke="#1e1e1e" stroke-width="0.5" fill="none"/>
<path d="M413.90,264.20 V265.80" stroke="#1e1e1e" stroke-width="0.5" fill="none"/>
<path d="M415.05,264.20 V265.80" stroke="#1e1e1e" stroke-width="0.5" fill="none"/>
<path d="M416.05,264.20 V265.80" stroke="#1e1e1e" stroke-width="0.5" fill="none"/>
<path d="M416.93,264.20 V265.80" stroke="#1e1e1e" stroke-width="0.5" fill="none"/>
<path d="M417.72,264.20 V267.00" stroke="#1e1e1e" stroke-width="0.9" fill="none"/>
<path d="M422.90,264.20 V265.80" stroke="#1e1e1e" stroke-width="0.5" fill="none"/>
<path d="M425.93,264.20 V265.80" stroke="#1e1e1e" stroke-width="0.5" fill="none"/>
<path d="M428.08,264.20 V265.80" stroke="#1e1e1e" stroke-width="0.5" fill="none"/>
<path d="M429.75,264.20 V265.80" stroke="#1e1e1e" stroke-width="0.5" fill="none"/>
<path d="M431.11,264.20 V265.80" stroke="#1e1e1e" stroke-width="0.5" fill="none"/>
<path d="M432.26,264.20 V265.80" stroke="#1e1e1e" stroke-width="0.5" fill="none"/>
<path d="M433.26,264.20 V265.80" stroke="#1e1e1e" stroke-width="0.5" fill="none"/>
<path d="M434.14,264.20 V265.80" stroke="#1e1e1e" stroke-width="0.5" fill="none"/>
<path d="M434.93,264.20 V267.00" stroke="#1e1e1e" stroke-width="0.9" fill="none"/>
<path d="M440.11,264.20 V265.80" stroke="#1e1e1e" stroke-width="0.5" fill="none"/>
<path d="M443.14,264.20 V265.80" stroke="#1e1e1e" stroke-width="0.5" fill="none"/>
<path d="M445.29,264.20 V265.80" stroke="#1e1e1e" stroke-width="0.5" fill="none"/>
<path d="M446.96,264.20 V265.80" stroke="#1e1e1e" stroke-width="0.5" fill="none"/>
<path d="M448.32,264.20 V265.80" stroke="#1e1e1e" stroke-width="0.5" fill="none"/>
<path d="M449.47,264.20 V265.80" stroke="#1e1e1e" stroke-width="0.5" fill="none"/>
<path d="M450.47,264.20 V265.80" stroke="#1e1e1e" stroke-width="0.5" fill="none"/>
<path d="M451.35,264.20 V265.80" stroke="#1e1e1e" stroke-width="0.5" fill="none"/>
<path d="M452.14,264.20 V267.00" stroke="#1e1e1e" stroke-width="0.9" fill="none"/>
<path d="M457.32,264.20 V265.80" stroke="#1e1e1e" stroke-width="0.5" fill="none"/>
<path d="M460.35,264.20 V265.80" stroke="#1e1e1e" stroke-width="0.5" fill="none"/>
<path d="M462.50,264.20 V265.80" stroke="#1e1e1e" stroke-width="0.5" fill="none"/>
<path d="M464.17,264.20 V265.80" stroke="#1e1e1e" stroke-width="0.5" fill="none"/>
<path d="M465.53,264.20 V265.80" stroke="#1e1e1e" stroke-width="0.5" fill="none"/>
<path d="M466.68,264.20 V265.80" stroke="#1e1e1e" stroke-width="0.5" fill="none"/>
<path d="M467.68,264.20 V265.80" stroke="#1e1e1e" stroke-width="0.5" fill="none"/>
<path d="M468.56,264.20 V265.80" stroke="#1e1e1e" stroke-width="0.5" fill="none"/>
<path d="M469.35,264.20 V267.00" stroke="#1e1e1e" stroke-width="0.9" fill="none"/>
<path d="M474.53,264.20 V265.80" stroke="#1e1e1e" stroke-width="0.5" fill="none"/>
<path d="M477.56,264.20 V265.80" stroke="#1e1e1e" stroke-width="0.5" fill="none"/>
<path d="M479.71,264.20 V265.80" stroke="#1e1e1e" stroke-width="0.5" fill="none"/>
<path d="M481.38,264.20 V265.80" stroke="#1e1e1e" stroke-width="0.5" fill="none"/>
<path d="M482.74,264.20 V265.80" stroke="#1e1e1e" stroke-width="0.5" fill="none"/>
<path d="M483.89,264.20 V265.80" stroke="#1e1e1e" stroke-width="0.5" fill="none"/>
<path d="M484.89,264.20 V265.80" stroke="#1e1e1e" stroke-width="0.5" fill="none"/>
<path d="M485.77,264.20 V265.80" stroke="#1e1e1e" stroke-width="0.5" fill="none"/>
<path d="M486.56,264.20 V267.00" stroke="#1e1e1e" stroke-width="0.9" fill="none"/>
<path d="M491.74,264.20 V265.80" stroke="#1e1e1e" stroke-width="0.5" fill="none"/>
<path d="M494.77,264.20 V265.80" stroke="#1e1e1e" stroke-width="0.5" fill="none"/>
<path d="M496.92,264.20 V265.80" stroke="#1e1e1e" stroke-width="0.5" fill="none"/>
<path d="M498.59,264.20 V265.80" stroke="#1e1e1e" stroke-width="0.5" fill="none"/>
<path d="M499.95,264.20 V265.80" stroke="#1e1e1e" stroke-width="0.5" fill="none"/>
<path d="M501.10,264.20 V265.80" stroke="#1e1e1e" stroke-width="0.5" fill="none"/>
<path d="M502.10,264.20 V265.80" stroke="#1e1e1e" stroke-width="0.5" fill="none"/>
<path d="M502.98,264.20 V265.80" stroke="#1e1e1e" stroke-width="0.5" fill="none"/>
<path d="M503.77,264.20 V267.00" stroke="#1e1e1e" stroke-width="0.9" fill="none"/>
<text x="383.30" y="276.20" font-size="6.4" text-anchor="middle" font-weight="normal" fill="#383838" stroke="#383838" stroke-width="0">0.001</text>
<text x="400.51" y="276.20" font-size="6.4" text-anchor="middle" font-weight="normal" fill="#383838" stroke="#383838" stroke-width="0">0.01</text>
<text x="417.72" y="276.20" font-size="6.4" text-anchor="middle" font-weight="normal" fill="#383838" stroke="#383838" stroke-width="0">0.1</text>
<text x="434.93" y="276.20" font-size="6.4" text-anchor="middle" font-weight="normal" fill="#383838" stroke="#383838" stroke-width="0">1</text>
<text x="452.14" y="276.20" font-size="6.4" text-anchor="middle" font-weight="normal" fill="#383838" stroke="#383838" stroke-width="0">10</text>
<text x="469.35" y="276.20" font-size="6.4" text-anchor="middle" font-weight="normal" fill="#383838" stroke="#383838" stroke-width="0">100</text>
<text x="486.56" y="276.20" font-size="6.4" text-anchor="middle" font-weight="normal" fill="#383838" stroke="#383838" stroke-width="0">1000</text>
<text x="503.77" y="276.20" font-size="6.4" text-anchor="middle" font-weight="normal" fill="#383838" stroke="#383838" stroke-width="0">10000</text>
<text x="361.20" y="223.20" font-size="7.7" text-anchor="middle" font-weight="normal" fill="#1a1a1a" stroke="#1a1a1a" stroke-width="0.3" textLength="47.20" lengthAdjust="spacingAndGlyphs" transform="rotate(-90 361.20 223.20)">CP activity (%BL)</text>
<text x="444.70" y="287.40" font-size="8.6" text-anchor="middle" font-weight="normal" fill="#1a1a1a" stroke="#1a1a1a" stroke-width="0.4" textLength="31.10" lengthAdjust="spacingAndGlyphs">CG001 (nM)</text>
<path d="M383.30,196.23 L383.88,196.23 L384.47,196.23 L385.05,196.23 L385.64,196.24 L386.22,196.24 L386.80,196.24 L387.39,196.25 L387.97,196.25 L388.56,196.25 L389.14,196.26 L389.72,196.26 L390.31,196.27 L390.89,196.27 L391.47,196.28 L392.06,196.28 L392.64,196.29 L393.23,196.29 L393.81,196.30 L394.39,196.31 L394.98,196.32 L395.56,196.32 L396.15,196.33 L396.73,196.34 L397.31,196.35 L397.90,196.36 L398.48,196.37 L399.07,196.38 L399.65,196.40 L400.23,196.41 L400.82,196.42 L401.40,196.44 L401.99,196.45 L402.57,196.47 L403.15,196.49 L403.74,196.51 L404.32,196.53 L404.91,196.55 L405.49,196.57 L406.07,196.59 L406.66,196.62 L407.24,196.65 L407.82,196.68 L408.41,196.71 L408.99,196.74 L409.58,196.77 L410.16,196.81 L410.74,196.85 L411.33,196.89 L411.91,196.94 L412.50,196.98 L413.08,197.03 L413.66,197.09 L414.25,197.14 L414.83,197.20 L415.42,197.26 L416.00,197.33 L416.58,197.40 L417.17,197.48 L417.75,197.56 L418.34,197.64 L418.92,197.73 L419.50,197.83 L420.09,197.93 L420.67,198.04 L421.25,198.15 L421.84,198.27 L422.42,198.40 L423.01,198.53 L423.59,198.67 L424.17,198.82 L424.76,198.98 L425.34,199.15 L425.93,199.32 L426.51,199.51 L427.09,199.71 L427.68,199.91 L428.26,200.13 L428.85,200.36 L429.43,200.60 L430.01,200.86 L430.60,201.12 L431.18,201.41 L431.77,201.70 L432.35,202.01 L432.93,202.33 L433.52,202.67 L434.10,203.03 L434.68,203.40 L435.27,203.78 L435.85,204.18 L436.44,204.60 L437.02,205.04 L437.60,205.49 L438.19,205.97 L438.77,206.45 L439.36,206.96 L439.94,207.48 L440.52,208.02 L441.11,208.58 L441.69,209.15 L442.28,209.74 L442.86,210.35 L443.44,210.96 L444.03,211.60 L444.61,212.25 L445.20,212.91 L445.78,213.58 L446.36,214.26 L446.95,214.95 L447.53,215.65 L448.12,216.36 L448.70,217.07 L449.28,217.79 L449.87,218.51 L450.45,219.23 L451.03,219.96 L451.62,220.68 L452.20,221.40 L452.79,222.12 L453.37,222.83 L453.95,223.54 L454.54,224.24 L455.12,224.92 L455.71,225.60 L456.29,226.27 L456.87,226.93 L457.46,227.57 L458.04,228.20 L458.63,228.82 L459.21,229.42 L459.79,230.01 L460.38,230.58 L460.96,231.13 L461.55,231.66 L462.13,232.18 L462.71,232.68 L463.30,233.17 L463.88,233.63 L464.46,234.08 L465.05,234.52 L465.63,234.93 L466.22,235.33 L466.80,235.71 L467.38,236.08 L467.97,236.43 L468.55,236.76 L469.14,237.08 L469.72,237.39 L470.30,237.68 L470.89,237.96 L471.47,238.22 L472.06,238.47 L472.64,238.71 L473.22,238.94 L473.81,239.15 L474.39,239.36 L474.98,239.55 L475.56,239.74 L476.14,239.91 L476.73,240.08 L477.31,240.23 L477.89,240.38 L478.48,240.52 L479.06,240.65 L479.65,240.78 L480.23,240.90 L480.81,241.01 L481.40,241.11 L481.98,241.21 L482.57,241.31 L483.15,241.39 L483.73,241.48 L484.32,241.56 L484.90,241.63 L485.49,241.70 L486.07,241.77 L486.65,241.83 L487.24,241.89 L487.82,241.94 L488.41,242.00 L488.99,242.04 L489.57,242.09 L490.16,242.13 L490.74,242.18 L491.33,242.21 L491.91,242.25 L492.49,242.28 L493.08,242.32 L493.66,242.35 L494.24,242.38 L494.83,242.40 L495.41,242.43 L496.00,242.45 L496.58,242.47 L497.16,242.49 L497.75,242.51 L498.33,242.53 L498.92,242.55 L499.50,242.57" stroke="#24486c" stroke-width="1.2" fill="none"/>
<path d="M400.50,193.75 V199.50 M398.90,193.75 H402.10 M398.90,199.50 H402.10" stroke="#5c7d9c" stroke-width="0.8" fill="none"/>
<path d="M417.50,193.00 V199.50 M415.90,193.00 H419.10 M415.90,199.50 H419.10" stroke="#5c7d9c" stroke-width="0.8" fill="none"/>
<path d="M434.50,197.00 V207.00 M432.90,197.00 H436.10 M432.90,207.00 H436.10" stroke="#5c7d9c" stroke-width="0.8" fill="none"/>
<path d="M446.75,213.75 V219.25 M445.15,213.75 H448.35 M445.15,219.25 H448.35" stroke="#5c7d9c" stroke-width="0.8" fill="none"/>
<circle cx="383.00" cy="197.50" r="1.95" fill="#17324f"/>
<circle cx="400.50" cy="196.75" r="1.95" fill="#17324f"/>
<circle cx="417.50" cy="196.25" r="1.95" fill="#17324f"/>
<circle cx="434.50" cy="202.00" r="1.95" fill="#17324f"/>
<circle cx="446.75" cy="216.25" r="1.95" fill="#17324f"/>
<circle cx="463.75" cy="232.50" r="1.95" fill="#17324f"/>
<circle cx="480.75" cy="240.75" r="1.95" fill="#17324f"/>
<circle cx="499.50" cy="243.25" r="1.95" fill="#17324f"/>
<text x="7.20" y="314.00" font-size="11" text-anchor="start" font-weight="bold" fill="#111" stroke="#111" stroke-width="0.5">G</text>
<text x="97.95" y="327.50" font-size="9" text-anchor="middle" font-weight="normal" fill="#222" stroke="#222" stroke-width="0.15" textLength="31.30" lengthAdjust="spacingAndGlyphs">NMS/AP</text>
<path d="M35.70,333.00 V418.80" stroke="#1e1e1e" stroke-width="1.35" fill="none"/>
<path d="M32.90,416.20 H35.70" stroke="#1e1e1e" stroke-width="1.2" fill="none"/>
<text x="30.20" y="418.85" font-size="6.4" text-anchor="end" font-weight="normal" fill="#383838" stroke="#383838" stroke-width="0">0</text>
<path d="M32.90,402.72 H35.70" stroke="#1e1e1e" stroke-width="1.2" fill="none"/>
<text x="30.20" y="405.37" font-size="6.4" text-anchor="end" font-weight="normal" fill="#383838" stroke="#383838" stroke-width="0">20</text>
<path d="M32.90,389.23 H35.70" stroke="#1e1e1e" stroke-width="1.2" fill="none"/>
<text x="30.20" y="391.88" font-size="6.4" text-anchor="end" font-weight="normal" fill="#383838" stroke="#383838" stroke-width="0">40</text>
<path d="M32.90,375.75 H35.70" stroke="#1e1e1e" stroke-width="1.2" fill="none"/>
<text x="30.20" y="378.40" font-size="6.4" text-anchor="end" font-weight="normal" fill="#383838" stroke="#383838" stroke-width="0">60</text>
<path d="M32.90,362.27 H35.70" stroke="#1e1e1e" stroke-width="1.2" fill="none"/>
<text x="30.20" y="364.92" font-size="6.4" text-anchor="end" font-weight="normal" fill="#383838" stroke="#383838" stroke-width="0">80</text>
<path d="M32.90,348.78 H35.70" stroke="#1e1e1e" stroke-width="1.2" fill="none"/>
<text x="30.20" y="351.43" font-size="6.4" text-anchor="end" font-weight="normal" fill="#383838" stroke="#383838" stroke-width="0">100</text>
<path d="M32.90,335.30 H35.70" stroke="#1e1e1e" stroke-width="1.2" fill="none"/>
<text x="30.20" y="337.95" font-size="6.4" text-anchor="end" font-weight="normal" fill="#383838" stroke="#383838" stroke-width="0">120</text>
<path d="M33.10,416.20 H159.40" stroke="#1e1e1e" stroke-width="1.35" fill="none"/>
<path d="M35.50,416.20 V419.00" stroke="#1e1e1e" stroke-width="0.9" fill="none"/>
<path d="M42.82,416.20 V417.80" stroke="#1e1e1e" stroke-width="0.5" fill="none"/>
<path d="M47.09,416.20 V417.80" stroke="#1e1e1e" stroke-width="0.5" fill="none"/>
<path d="M50.13,416.20 V417.80" stroke="#1e1e1e" stroke-width="0.5" fill="none"/>
<path d="M52.48,416.20 V417.80" stroke="#1e1e1e" stroke-width="0.5" fill="none"/>
<path d="M54.41,416.20 V417.80" stroke="#1e1e1e" stroke-width="0.5" fill="none"/>
<path d="M56.04,416.20 V417.80" stroke="#1e1e1e" stroke-width="0.5" fill="none"/>
<path d="M57.45,416.20 V417.80" stroke="#1e1e1e" stroke-width="0.5" fill="none"/>
<path d="M58.69,416.20 V417.80" stroke="#1e1e1e" stroke-width="0.5" fill="none"/>
<path d="M59.80,416.20 V419.00" stroke="#1e1e1e" stroke-width="0.9" fill="none"/>
<path d="M67.12,416.20 V417.80" stroke="#1e1e1e" stroke-width="0.5" fill="none"/>
<path d="M71.39,416.20 V417.80" stroke="#1e1e1e" stroke-width="0.5" fill="none"/>
<path d="M74.43,416.20 V417.80" stroke="#1e1e1e" stroke-width="0.5" fill="none"/>
<path d="M76.78,416.20 V417.80" stroke="#1e1e1e" stroke-width="0.5" fill="none"/>
<path d="M78.71,416.20 V417.80" stroke="#1e1e1e" stroke-width="0.5" fill="none"/>
<path d="M80.34,416.20 V417.80" stroke="#1e1e1e" stroke-width="0.5" fill="none"/>
<path d="M81.75,416.20 V417.80" stroke="#1e1e1e" stroke-width="0.5" fill="none"/>
<path d="M82.99,416.20 V417.80" stroke="#1e1e1e" stroke-width="0.5" fill="none"/>
<path d="M84.10,416.20 V419.00" stroke="#1e1e1e" stroke-width="0.9" fill="none"/>
<path d="M91.42,416.20 V417.80" stroke="#1e1e1e" stroke-width="0.5" fill="none"/>
<path d="M95.69,416.20 V417.80" stroke="#1e1e1e" stroke-width="0.5" fill="none"/>
<path d="M98.73,416.20 V417.80" stroke="#1e1e1e" stroke-width="0.5" fill="none"/>
<path d="M101.08,416.20 V417.80" stroke="#1e1e1e" stroke-width="0.5" fill="none"/>
<path d="M103.01,416.20 V417.80" stroke="#1e1e1e" stroke-width="0.5" fill="none"/>
<path d="M104.64,416.20 V417.80" stroke="#1e1e1e" stroke-width="0.5" fill="none"/>
<path d="M106.05,416.20 V417.80" stroke="#1e1e1e" stroke-width="0.5" fill="none"/>
<path d="M107.29,416.20 V417.80" stroke="#1e1e1e" stroke-width="0.5" fill="none"/>
<path d="M108.40,416.20 V419.00" stroke="#1e1e1e" stroke-width="0.9" fill="none"/>
<path d="M115.72,416.20 V417.80" stroke="#1e1e1e" stroke-width="0.5" fill="none"/>
<path d="M119.99,416.20 V417.80" stroke="#1e1e1e" stroke-width="0.5" fill="none"/>
<path d="M123.03,416.20 V417.80" stroke="#1e1e1e" stroke-width="0.5" fill="none"/>
<path d="M125.38,416.20 V417.80" stroke="#1e1e1e" stroke-width="0.5" fill="none"/>
<path d="M127.31,416.20 V417.80" stroke="#1e1e1e" stroke-width="0.5" fill="none"/>
<path d="M128.94,416.20 V417.80" stroke="#1e1e1e" stroke-width="0.5" fill="none"/>
<path d="M130.35,416.20 V417.80" stroke="#1e1e1e" stroke-width="0.5" fill="none"/>
<path d="M131.59,416.20 V417.80" stroke="#1e1e1e" stroke-width="0.5" fill="none"/>
<path d="M132.70,416.20 V419.00" stroke="#1e1e1e" stroke-width="0.9" fill="none"/>
<path d="M140.02,416.20 V417.80" stroke="#1e1e1e" stroke-width="0.5" fill="none"/>
<path d="M144.29,416.20 V417.80" stroke="#1e1e1e" stroke-width="0.5" fill="none"/>
<path d="M147.33,416.20 V417.80" stroke="#1e1e1e" stroke-width="0.5" fill="none"/>
<path d="M149.68,416.20 V417.80" stroke="#1e1e1e" stroke-width="0.5" fill="none"/>
<path d="M151.61,416.20 V417.80" stroke="#1e1e1e" stroke-width="0.5" fill="none"/>
<path d="M153.24,416.20 V417.80" stroke="#1e1e1e" stroke-width="0.5" fill="none"/>
<path d="M154.65,416.20 V417.80" stroke="#1e1e1e" stroke-width="0.5" fill="none"/>
<path d="M155.89,416.20 V417.80" stroke="#1e1e1e" stroke-width="0.5" fill="none"/>
<path d="M157.00,416.20 V419.00" stroke="#1e1e1e" stroke-width="0.9" fill="none"/>
<text x="35.50" y="428.20" font-size="6.4" text-anchor="middle" font-weight="normal" fill="#383838" stroke="#383838" stroke-width="0">0.001</text>
<text x="59.80" y="428.20" font-size="6.4" text-anchor="middle" font-weight="normal" fill="#383838" stroke="#383838" stroke-width="0">0.01</text>
<text x="84.10" y="428.20" font-size="6.4" text-anchor="middle" font-weight="normal" fill="#383838" stroke="#383838" stroke-width="0">0.1</text>
<text x="108.40" y="428.20" font-size="6.4" text-anchor="middle" font-weight="normal" fill="#383838" stroke="#383838" stroke-width="0">1</text>
<text x="132.70" y="428.20" font-size="6.4" text-anchor="middle" font-weight="normal" fill="#383838" stroke="#383838" stroke-width="0">10</text>
<text x="157.00" y="428.20" font-size="6.4" text-anchor="middle" font-weight="normal" fill="#383838" stroke="#383838" stroke-width="0">100</text>
<text x="13.40" y="374.50" font-size="7.7" text-anchor="middle" font-weight="normal" fill="#1a1a1a" stroke="#1a1a1a" stroke-width="0.3" textLength="47.20" lengthAdjust="spacingAndGlyphs" transform="rotate(-90 13.40 374.50)">AP activity (%BL)</text>
<text x="97.50" y="439.20" font-size="8.6" text-anchor="middle" font-weight="normal" fill="#1a1a1a" stroke="#1a1a1a" stroke-width="0.4" textLength="31.30" lengthAdjust="spacingAndGlyphs">CG001 (nM)</text>
<path d="M35.70,351.48 L36.19,351.48 L36.67,351.48 L37.16,351.48 L37.64,351.48 L38.13,351.48 L38.61,351.48 L39.10,351.48 L39.58,351.48 L40.07,351.48 L40.55,351.48 L41.04,351.48 L41.53,351.48 L42.01,351.48 L42.50,351.48 L42.98,351.48 L43.47,351.48 L43.95,351.48 L44.44,351.48 L44.92,351.48 L45.41,351.48 L45.89,351.48 L46.38,351.48 L46.86,351.48 L47.35,351.48 L47.84,351.48 L48.32,351.48 L48.81,351.48 L49.29,351.48 L49.78,351.48 L50.26,351.48 L50.75,351.48 L51.23,351.48 L51.72,351.48 L52.20,351.48 L52.69,351.48 L53.18,351.48 L53.66,351.48 L54.15,351.48 L54.63,351.48 L55.12,351.48 L55.60,351.48 L56.09,351.48 L56.57,351.48 L57.06,351.48 L57.54,351.48 L58.03,351.48 L58.52,351.48 L59.00,351.48 L59.49,351.48 L59.97,351.48 L60.46,351.49 L60.94,351.49 L61.43,351.49 L61.91,351.49 L62.40,351.49 L62.88,351.49 L63.37,351.49 L63.85,351.50 L64.34,351.50 L64.83,351.50 L65.31,351.50 L65.80,351.50 L66.28,351.51 L66.77,351.51 L67.25,351.52 L67.74,351.52 L68.22,351.53 L68.71,351.53 L69.19,351.54 L69.68,351.54 L70.17,351.55 L70.65,351.56 L71.14,351.57 L71.62,351.58 L72.11,351.59 L72.59,351.61 L73.08,351.62 L73.56,351.64 L74.05,351.66 L74.53,351.68 L75.02,351.70 L75.51,351.73 L75.99,351.76 L76.48,351.79 L76.96,351.83 L77.45,351.87 L77.93,351.91 L78.42,351.96 L78.90,352.02 L79.39,352.08 L79.87,352.15 L80.36,352.23 L80.84,352.31 L81.33,352.41 L81.82,352.52 L82.30,352.64 L82.79,352.77 L83.27,352.92 L83.76,353.09 L84.24,353.27 L84.73,353.47 L85.21,353.70 L85.70,353.95 L86.18,354.22 L86.67,354.53 L87.16,354.87 L87.64,355.24 L88.13,355.66 L88.61,356.11 L89.10,356.61 L89.58,357.16 L90.07,357.76 L90.55,358.42 L91.04,359.14 L91.52,359.92 L92.01,360.77 L92.49,361.69 L92.98,362.68 L93.47,363.75 L93.95,364.89 L94.44,366.11 L94.92,367.41 L95.41,368.78 L95.89,370.22 L96.38,371.74 L96.86,373.32 L97.35,374.97 L97.83,376.66 L98.32,378.40 L98.81,380.17 L99.29,381.97 L99.78,383.78 L100.26,385.60 L100.75,387.40 L101.23,389.19 L101.72,390.95 L102.20,392.67 L102.69,394.34 L103.17,395.95 L103.66,397.51 L104.15,398.99 L104.63,400.41 L105.12,401.74 L105.60,403.01 L106.09,404.19 L106.57,405.30 L107.06,406.33 L107.54,407.29 L108.03,408.17 L108.51,408.99 L109.00,409.74 L109.48,410.43 L109.97,411.06 L110.46,411.64 L110.94,412.17 L111.43,412.65 L111.91,413.08 L112.40,413.48 L112.88,413.84 L113.37,414.16 L113.85,414.45 L114.34,414.72 L114.82,414.95 L115.31,415.17 L115.80,415.36 L116.28,415.54 L116.77,415.70 L117.25,415.84 L117.74,415.96 L118.22,416.08 L118.71,416.18 L119.19,416.20 L119.68,416.20 L120.16,416.20 L120.65,416.20 L121.14,416.20 L121.62,416.20 L122.11,416.20 L122.59,416.20 L123.08,416.20 L123.56,416.20 L124.05,416.20 L124.53,416.20 L125.02,416.20 L125.50,416.20 L125.99,416.20 L126.47,416.20 L126.96,416.20 L127.45,416.20 L127.93,416.20 L128.42,416.20 L128.90,416.20 L129.39,416.20 L129.87,416.20 L130.36,416.20 L130.84,416.20 L131.33,416.20 L131.81,416.20 L132.30,416.20" stroke="#24486c" stroke-width="1.2" fill="none"/>
<path d="M60.25,349.40 V356.20 M58.65,349.40 H61.85 M58.65,356.20 H61.85" stroke="#5c7d9c" stroke-width="0.8" fill="none"/>
<path d="M83.90,350.00 V356.50 M82.30,350.00 H85.50 M82.30,356.50 H85.50" stroke="#5c7d9c" stroke-width="0.8" fill="none"/>
<path d="M93.50,361.50 V370.00 M91.90,361.50 H95.10 M91.90,370.00 H95.10" stroke="#5c7d9c" stroke-width="0.8" fill="none"/>
<path d="M100.90,382.50 V389.00 M99.30,382.50 H102.50 M99.30,389.00 H102.50" stroke="#5c7d9c" stroke-width="0.8" fill="none"/>
<circle cx="35.70" cy="348.75" r="1.95" fill="#17324f"/>
<circle cx="60.25" cy="353.00" r="1.95" fill="#17324f"/>
<circle cx="76.50" cy="352.30" r="1.95" fill="#17324f"/>
<circle cx="83.90" cy="353.00" r="1.95" fill="#17324f"/>
<circle cx="93.50" cy="365.70" r="1.95" fill="#17324f"/>
<circle cx="100.90" cy="385.80" r="1.95" fill="#17324f"/>
<circle cx="108.30" cy="410.10" r="1.95" fill="#17324f"/>
<circle cx="112.50" cy="415.40" r="1.95" fill="#17324f"/>
<circle cx="117.40" cy="415.60" r="1.95" fill="#17324f"/>
<circle cx="125.30" cy="416.00" r="1.95" fill="#17324f"/>
<circle cx="132.30" cy="416.00" r="1.95" fill="#17324f"/>
<text x="181.00" y="314.00" font-size="11" text-anchor="start" font-weight="bold" fill="#111" stroke="#111" stroke-width="0.5">H</text>
<text x="271.15" y="331.70" font-size="9" text-anchor="middle" font-weight="normal" fill="#222" stroke="#222" stroke-width="0.15" textLength="31.90" lengthAdjust="spacingAndGlyphs">NRS/CP</text>
<path d="M208.90,333.00 V418.80" stroke="#1e1e1e" stroke-width="1.35" fill="none"/>
<path d="M206.10,416.20 H208.90" stroke="#1e1e1e" stroke-width="1.2" fill="none"/>
<text x="203.40" y="418.85" font-size="6.4" text-anchor="end" font-weight="normal" fill="#383838" stroke="#383838" stroke-width="0">0</text>
<path d="M206.10,402.75 H208.90" stroke="#1e1e1e" stroke-width="1.2" fill="none"/>
<text x="203.40" y="405.40" font-size="6.4" text-anchor="end" font-weight="normal" fill="#383838" stroke="#383838" stroke-width="0">20</text>
<path d="M206.10,389.30 H208.90" stroke="#1e1e1e" stroke-width="1.2" fill="none"/>
<text x="203.40" y="391.95" font-size="6.4" text-anchor="end" font-weight="normal" fill="#383838" stroke="#383838" stroke-width="0">40</text>
<path d="M206.10,375.85 H208.90" stroke="#1e1e1e" stroke-width="1.2" fill="none"/>
<text x="203.40" y="378.50" font-size="6.4" text-anchor="end" font-weight="normal" fill="#383838" stroke="#383838" stroke-width="0">60</text>
<path d="M206.10,362.40 H208.90" stroke="#1e1e1e" stroke-width="1.2" fill="none"/>
<text x="203.40" y="365.05" font-size="6.4" text-anchor="end" font-weight="normal" fill="#383838" stroke="#383838" stroke-width="0">80</text>
<path d="M206.10,348.95 H208.90" stroke="#1e1e1e" stroke-width="1.2" fill="none"/>
<text x="203.40" y="351.60" font-size="6.4" text-anchor="end" font-weight="normal" fill="#383838" stroke="#383838" stroke-width="0">100</text>
<path d="M206.10,335.50 H208.90" stroke="#1e1e1e" stroke-width="1.2" fill="none"/>
<text x="203.40" y="338.15" font-size="6.4" text-anchor="end" font-weight="normal" fill="#383838" stroke="#383838" stroke-width="0">120</text>
<path d="M206.30,416.20 H332.30" stroke="#1e1e1e" stroke-width="1.35" fill="none"/>
<path d="M208.90,416.20 V419.00" stroke="#1e1e1e" stroke-width="0.9" fill="none"/>
<path d="M214.98,416.20 V417.80" stroke="#1e1e1e" stroke-width="0.5" fill="none"/>
<path d="M218.54,416.20 V417.80" stroke="#1e1e1e" stroke-width="0.5" fill="none"/>
<path d="M221.06,416.20 V417.80" stroke="#1e1e1e" stroke-width="0.5" fill="none"/>
<path d="M223.02,416.20 V417.80" stroke="#1e1e1e" stroke-width="0.5" fill="none"/>
<path d="M224.62,416.20 V417.80" stroke="#1e1e1e" stroke-width="0.5" fill="none"/>
<path d="M225.97,416.20 V417.80" stroke="#1e1e1e" stroke-width="0.5" fill="none"/>
<path d="M227.14,416.20 V417.80" stroke="#1e1e1e" stroke-width="0.5" fill="none"/>
<path d="M228.18,416.20 V417.80" stroke="#1e1e1e" stroke-width="0.5" fill="none"/>
<path d="M229.10,416.20 V418.00" stroke="#1e1e1e" stroke-width="0.7" fill="none"/>
<path d="M235.18,416.20 V417.80" stroke="#1e1e1e" stroke-width="0.5" fill="none"/>
<path d="M238.74,416.20 V417.80" stroke="#1e1e1e" stroke-width="0.5" fill="none"/>
<path d="M241.26,416.20 V417.80" stroke="#1e1e1e" stroke-width="0.5" fill="none"/>
<path d="M243.22,416.20 V417.80" stroke="#1e1e1e" stroke-width="0.5" fill="none"/>
<path d="M244.82,416.20 V417.80" stroke="#1e1e1e" stroke-width="0.5" fill="none"/>
<path d="M246.17,416.20 V417.80" stroke="#1e1e1e" stroke-width="0.5" fill="none"/>
<path d="M247.34,416.20 V417.80" stroke="#1e1e1e" stroke-width="0.5" fill="none"/>
<path d="M248.38,416.20 V417.80" stroke="#1e1e1e" stroke-width="0.5" fill="none"/>
<path d="M249.30,416.20 V419.00" stroke="#1e1e1e" stroke-width="0.9" fill="none"/>
<path d="M255.38,416.20 V417.80" stroke="#1e1e1e" stroke-width="0.5" fill="none"/>
<path d="M258.94,416.20 V417.80" stroke="#1e1e1e" stroke-width="0.5" fill="none"/>
<path d="M261.46,416.20 V417.80" stroke="#1e1e1e" stroke-width="0.5" fill="none"/>
<path d="M263.42,416.20 V417.80" stroke="#1e1e1e" stroke-width="0.5" fill="none"/>
<path d="M265.02,416.20 V417.80" stroke="#1e1e1e" stroke-width="0.5" fill="none"/>
<path d="M266.37,416.20 V417.80" stroke="#1e1e1e" stroke-width="0.5" fill="none"/>
<path d="M267.54,416.20 V417.80" stroke="#1e1e1e" stroke-width="0.5" fill="none"/>
<path d="M268.58,416.20 V417.80" stroke="#1e1e1e" stroke-width="0.5" fill="none"/>
<path d="M269.50,416.20 V418.00" stroke="#1e1e1e" stroke-width="0.7" fill="none"/>
<path d="M275.58,416.20 V417.80" stroke="#1e1e1e" stroke-width="0.5" fill="none"/>
<path d="M279.14,416.20 V417.80" stroke="#1e1e1e" stroke-width="0.5" fill="none"/>
<path d="M281.66,416.20 V417.80" stroke="#1e1e1e" stroke-width="0.5" fill="none"/>
<path d="M283.62,416.20 V417.80" stroke="#1e1e1e" stroke-width="0.5" fill="none"/>
<path d="M285.22,416.20 V417.80" stroke="#1e1e1e" stroke-width="0.5" fill="none"/>
<path d="M286.57,416.20 V417.80" stroke="#1e1e1e" stroke-width="0.5" fill="none"/>
<path d="M287.74,416.20 V417.80" stroke="#1e1e1e" stroke-width="0.5" fill="none"/>
<path d="M288.78,416.20 V417.80" stroke="#1e1e1e" stroke-width="0.5" fill="none"/>
<path d="M289.70,416.20 V419.00" stroke="#1e1e1e" stroke-width="0.9" fill="none"/>
<path d="M295.78,416.20 V417.80" stroke="#1e1e1e" stroke-width="0.5" fill="none"/>
<path d="M299.34,416.20 V417.80" stroke="#1e1e1e" stroke-width="0.5" fill="none"/>
<path d="M301.86,416.20 V417.80" stroke="#1e1e1e" stroke-width="0.5" fill="none"/>
<path d="M303.82,416.20 V417.80" stroke="#1e1e1e" stroke-width="0.5" fill="none"/>
<path d="M305.42,416.20 V417.80" stroke="#1e1e1e" stroke-width="0.5" fill="none"/>
<path d="M306.77,416.20 V417.80" stroke="#1e1e1e" stroke-width="0.5" fill="none"/>
<path d="M307.94,416.20 V417.80" stroke="#1e1e1e" stroke-width="0.5" fill="none"/>
<path d="M308.98,416.20 V417.80" stroke="#1e1e1e" stroke-width="0.5" fill="none"/>
<path d="M309.90,416.20 V418.00" stroke="#1e1e1e" stroke-width="0.7" fill="none"/>
<path d="M315.98,416.20 V417.80" stroke="#1e1e1e" stroke-width="0.5" fill="none"/>
<path d="M319.54,416.20 V417.80" stroke="#1e1e1e" stroke-width="0.5" fill="none"/>
<path d="M322.06,416.20 V417.80" stroke="#1e1e1e" stroke-width="0.5" fill="none"/>
<path d="M324.02,416.20 V417.80" stroke="#1e1e1e" stroke-width="0.5" fill="none"/>
<path d="M325.62,416.20 V417.80" stroke="#1e1e1e" stroke-width="0.5" fill="none"/>
<path d="M326.97,416.20 V417.80" stroke="#1e1e1e" stroke-width="0.5" fill="none"/>
<path d="M328.14,416.20 V417.80" stroke="#1e1e1e" stroke-width="0.5" fill="none"/>
<path d="M329.18,416.20 V417.80" stroke="#1e1e1e" stroke-width="0.5" fill="none"/>
<path d="M330.10,416.20 V419.00" stroke="#1e1e1e" stroke-width="0.9" fill="none"/>
<text x="208.90" y="428.20" font-size="6.4" text-anchor="middle" font-weight="normal" fill="#383838" stroke="#383838" stroke-width="0">0.01</text>
<text x="249.30" y="428.20" font-size="6.4" text-anchor="middle" font-weight="normal" fill="#383838" stroke="#383838" stroke-width="0">1</text>
<text x="289.70" y="428.20" font-size="6.4" text-anchor="middle" font-weight="normal" fill="#383838" stroke="#383838" stroke-width="0">100</text>
<text x="330.10" y="428.20" font-size="6.4" text-anchor="middle" font-weight="normal" fill="#383838" stroke="#383838" stroke-width="0">10000</text>
<text x="186.80" y="374.50" font-size="7.7" text-anchor="middle" font-weight="normal" fill="#1a1a1a" stroke="#1a1a1a" stroke-width="0.3" textLength="47.20" lengthAdjust="spacingAndGlyphs" transform="rotate(-90 186.80 374.50)">CP activity (%BL)</text>
<text x="271.20" y="439.20" font-size="8.6" text-anchor="middle" font-weight="normal" fill="#1a1a1a" stroke="#1a1a1a" stroke-width="0.4" textLength="31.30" lengthAdjust="spacingAndGlyphs">CG001 (nM)</text>
<path d="M208.90,349.06 L209.41,349.06 L209.92,349.07 L210.43,349.07 L210.93,349.07 L211.44,349.07 L211.95,349.07 L212.46,349.07 L212.97,349.07 L213.48,349.08 L213.99,349.08 L214.49,349.08 L215.00,349.08 L215.51,349.08 L216.02,349.09 L216.53,349.09 L217.04,349.09 L217.55,349.09 L218.05,349.10 L218.56,349.10 L219.07,349.10 L219.58,349.11 L220.09,349.11 L220.60,349.11 L221.11,349.12 L221.61,349.12 L222.12,349.12 L222.63,349.13 L223.14,349.13 L223.65,349.14 L224.16,349.14 L224.66,349.15 L225.17,349.15 L225.68,349.16 L226.19,349.16 L226.70,349.17 L227.21,349.18 L227.72,349.18 L228.22,349.19 L228.73,349.20 L229.24,349.20 L229.75,349.21 L230.26,349.22 L230.77,349.23 L231.28,349.24 L231.78,349.24 L232.29,349.25 L232.80,349.26 L233.31,349.28 L233.82,349.29 L234.33,349.30 L234.84,349.31 L235.34,349.32 L235.85,349.34 L236.36,349.35 L236.87,349.36 L237.38,349.38 L237.89,349.39 L238.40,349.41 L238.90,349.43 L239.41,349.45 L239.92,349.46 L240.43,349.48 L240.94,349.50 L241.45,349.53 L241.96,349.55 L242.46,349.57 L242.97,349.60 L243.48,349.62 L243.99,349.65 L244.50,349.68 L245.01,349.70 L245.52,349.74 L246.02,349.77 L246.53,349.80 L247.04,349.83 L247.55,349.87 L248.06,349.91 L248.57,349.95 L249.07,349.99 L249.58,350.03 L250.09,350.08 L250.60,350.12 L251.11,350.17 L251.62,350.22 L252.13,350.28 L252.63,350.33 L253.14,350.39 L253.65,350.45 L254.16,350.52 L254.67,350.58 L255.18,350.65 L255.69,350.72 L256.19,350.80 L256.70,350.88 L257.21,350.96 L257.72,351.05 L258.23,351.13 L258.74,351.23 L259.25,351.32 L259.75,351.43 L260.26,351.53 L260.77,351.64 L261.28,351.75 L261.79,351.87 L262.30,352.00 L262.81,352.13 L263.31,352.26 L263.82,352.40 L264.33,352.55 L264.84,352.70 L265.35,352.86 L265.86,353.02 L266.37,353.19 L266.87,353.37 L267.38,353.55 L267.89,353.74 L268.40,353.94 L268.91,354.15 L269.42,354.36 L269.93,354.58 L270.43,354.81 L270.94,355.05 L271.45,355.30 L271.96,355.56 L272.47,355.82 L272.98,356.10 L273.48,356.38 L273.99,356.68 L274.50,356.98 L275.01,357.30 L275.52,357.63 L276.03,357.96 L276.54,358.31 L277.04,358.67 L277.55,359.04 L278.06,359.42 L278.57,359.81 L279.08,360.21 L279.59,360.63 L280.10,361.06 L280.60,361.50 L281.11,361.95 L281.62,362.41 L282.13,362.88 L282.64,363.37 L283.15,363.87 L283.66,364.38 L284.16,364.90 L284.67,365.43 L285.18,365.97 L285.69,366.53 L286.20,367.09 L286.71,367.67 L287.22,368.26 L287.72,368.85 L288.23,369.46 L288.74,370.07 L289.25,370.69 L289.76,371.32 L290.27,371.96 L290.78,372.61 L291.28,373.26 L291.79,373.92 L292.30,374.58 L292.81,375.25 L293.32,375.93 L293.83,376.60 L294.34,377.28 L294.84,377.96 L295.35,378.65 L295.86,379.33 L296.37,380.02 L296.88,380.70 L297.39,381.38 L297.89,382.06 L298.40,382.74 L298.91,383.42 L299.42,384.09 L299.93,384.76 L300.44,385.42 L300.95,386.08 L301.45,386.73 L301.96,387.37 L302.47,388.01 L302.98,388.63 L303.49,389.25 L304.00,389.86 L304.51,390.47 L305.01,391.06 L305.52,391.64 L306.03,392.21 L306.54,392.77 L307.05,393.33 L307.56,393.86 L308.07,394.39 L308.57,394.91 L309.08,395.42 L309.59,395.91 L310.10,396.39" stroke="#24486c" stroke-width="1.2" fill="none"/>
<path d="M283.50,362.50 V367.00 M281.90,362.50 H285.10 M281.90,367.00 H285.10" stroke="#5c7d9c" stroke-width="0.8" fill="none"/>
<path d="M290.20,369.30 V374.00 M288.60,369.30 H291.80 M288.60,374.00 H291.80" stroke="#5c7d9c" stroke-width="0.8" fill="none"/>
<path d="M297.90,379.50 V384.50 M296.30,379.50 H299.50 M296.30,384.50 H299.50" stroke="#5c7d9c" stroke-width="0.8" fill="none"/>
<circle cx="209.00" cy="348.85" r="1.95" fill="#17324f"/>
<circle cx="229.30" cy="349.30" r="1.95" fill="#17324f"/>
<circle cx="249.25" cy="350.40" r="1.95" fill="#17324f"/>
<circle cx="269.20" cy="353.70" r="1.95" fill="#17324f"/>
<circle cx="283.50" cy="364.80" r="1.95" fill="#17324f"/>
<circle cx="290.20" cy="371.60" r="1.95" fill="#17324f"/>
<circle cx="297.90" cy="382.00" r="1.95" fill="#17324f"/>
<circle cx="303.90" cy="389.80" r="1.95" fill="#17324f"/>
<circle cx="310.10" cy="396.40" r="1.95" fill="#17324f"/>
<text x="355.10" y="314.00" font-size="11" text-anchor="start" font-weight="bold" fill="#111" stroke="#111" stroke-width="0.5">I</text>
<text x="445.55" y="331.70" font-size="9" text-anchor="middle" font-weight="normal" fill="#222" stroke="#222" stroke-width="0.15" textLength="30.70" lengthAdjust="spacingAndGlyphs">NRS/AP</text>
<path d="M383.50,333.00 V418.80" stroke="#1e1e1e" stroke-width="1.35" fill="none"/>
<path d="M380.70,416.20 H383.50" stroke="#1e1e1e" stroke-width="1.2" fill="none"/>
<text x="378.00" y="418.85" font-size="6.4" text-anchor="end" font-weight="normal" fill="#383838" stroke="#383838" stroke-width="0">0</text>
<path d="M380.70,402.72 H383.50" stroke="#1e1e1e" stroke-width="1.2" fill="none"/>
<text x="378.00" y="405.37" font-size="6.4" text-anchor="end" font-weight="normal" fill="#383838" stroke="#383838" stroke-width="0">20</text>
<path d="M380.70,389.23 H383.50" stroke="#1e1e1e" stroke-width="1.2" fill="none"/>
<text x="378.00" y="391.88" font-size="6.4" text-anchor="end" font-weight="normal" fill="#383838" stroke="#383838" stroke-width="0">40</text>
<path d="M380.70,375.75 H383.50" stroke="#1e1e1e" stroke-width="1.2" fill="none"/>
<text x="378.00" y="378.40" font-size="6.4" text-anchor="end" font-weight="normal" fill="#383838" stroke="#383838" stroke-width="0">60</text>
<path d="M380.70,362.27 H383.50" stroke="#1e1e1e" stroke-width="1.2" fill="none"/>
<text x="378.00" y="364.92" font-size="6.4" text-anchor="end" font-weight="normal" fill="#383838" stroke="#383838" stroke-width="0">80</text>
<path d="M380.70,348.78 H383.50" stroke="#1e1e1e" stroke-width="1.2" fill="none"/>
<text x="378.00" y="351.43" font-size="6.4" text-anchor="end" font-weight="normal" fill="#383838" stroke="#383838" stroke-width="0">100</text>
<path d="M380.70,335.30 H383.50" stroke="#1e1e1e" stroke-width="1.2" fill="none"/>
<text x="378.00" y="337.95" font-size="6.4" text-anchor="end" font-weight="normal" fill="#383838" stroke="#383838" stroke-width="0">120</text>
<path d="M380.90,416.20 H506.80" stroke="#1e1e1e" stroke-width="1.35" fill="none"/>
<path d="M383.40,416.20 V419.00" stroke="#1e1e1e" stroke-width="0.9" fill="none"/>
<path d="M389.46,416.20 V417.80" stroke="#1e1e1e" stroke-width="0.5" fill="none"/>
<path d="M393.00,416.20 V417.80" stroke="#1e1e1e" stroke-width="0.5" fill="none"/>
<path d="M395.52,416.20 V417.80" stroke="#1e1e1e" stroke-width="0.5" fill="none"/>
<path d="M397.47,416.20 V417.80" stroke="#1e1e1e" stroke-width="0.5" fill="none"/>
<path d="M399.06,416.20 V417.80" stroke="#1e1e1e" stroke-width="0.5" fill="none"/>
<path d="M400.41,416.20 V417.80" stroke="#1e1e1e" stroke-width="0.5" fill="none"/>
<path d="M401.58,416.20 V417.80" stroke="#1e1e1e" stroke-width="0.5" fill="none"/>
<path d="M402.61,416.20 V417.80" stroke="#1e1e1e" stroke-width="0.5" fill="none"/>
<path d="M403.53,416.20 V418.00" stroke="#1e1e1e" stroke-width="0.7" fill="none"/>
<path d="M409.59,416.20 V417.80" stroke="#1e1e1e" stroke-width="0.5" fill="none"/>
<path d="M413.13,416.20 V417.80" stroke="#1e1e1e" stroke-width="0.5" fill="none"/>
<path d="M415.65,416.20 V417.80" stroke="#1e1e1e" stroke-width="0.5" fill="none"/>
<path d="M417.60,416.20 V417.80" stroke="#1e1e1e" stroke-width="0.5" fill="none"/>
<path d="M419.19,416.20 V417.80" stroke="#1e1e1e" stroke-width="0.5" fill="none"/>
<path d="M420.54,416.20 V417.80" stroke="#1e1e1e" stroke-width="0.5" fill="none"/>
<path d="M421.71,416.20 V417.80" stroke="#1e1e1e" stroke-width="0.5" fill="none"/>
<path d="M422.74,416.20 V417.80" stroke="#1e1e1e" stroke-width="0.5" fill="none"/>
<path d="M423.66,416.20 V419.00" stroke="#1e1e1e" stroke-width="0.9" fill="none"/>
<path d="M429.72,416.20 V417.80" stroke="#1e1e1e" stroke-width="0.5" fill="none"/>
<path d="M433.26,416.20 V417.80" stroke="#1e1e1e" stroke-width="0.5" fill="none"/>
<path d="M435.78,416.20 V417.80" stroke="#1e1e1e" stroke-width="0.5" fill="none"/>
<path d="M437.73,416.20 V417.80" stroke="#1e1e1e" stroke-width="0.5" fill="none"/>
<path d="M439.32,416.20 V417.80" stroke="#1e1e1e" stroke-width="0.5" fill="none"/>
<path d="M440.67,416.20 V417.80" stroke="#1e1e1e" stroke-width="0.5" fill="none"/>
<path d="M441.84,416.20 V417.80" stroke="#1e1e1e" stroke-width="0.5" fill="none"/>
<path d="M442.87,416.20 V417.80" stroke="#1e1e1e" stroke-width="0.5" fill="none"/>
<path d="M443.79,416.20 V418.00" stroke="#1e1e1e" stroke-width="0.7" fill="none"/>
<path d="M449.85,416.20 V417.80" stroke="#1e1e1e" stroke-width="0.5" fill="none"/>
<path d="M453.39,416.20 V417.80" stroke="#1e1e1e" stroke-width="0.5" fill="none"/>
<path d="M455.91,416.20 V417.80" stroke="#1e1e1e" stroke-width="0.5" fill="none"/>
<path d="M457.86,416.20 V417.80" stroke="#1e1e1e" stroke-width="0.5" fill="none"/>
<path d="M459.45,416.20 V417.80" stroke="#1e1e1e" stroke-width="0.5" fill="none"/>
<path d="M460.80,416.20 V417.80" stroke="#1e1e1e" stroke-width="0.5" fill="none"/>
<path d="M461.97,416.20 V417.80" stroke="#1e1e1e" stroke-width="0.5" fill="none"/>
<path d="M463.00,416.20 V417.80" stroke="#1e1e1e" stroke-width="0.5" fill="none"/>
<path d="M463.92,416.20 V419.00" stroke="#1e1e1e" stroke-width="0.9" fill="none"/>
<path d="M469.98,416.20 V417.80" stroke="#1e1e1e" stroke-width="0.5" fill="none"/>
<path d="M473.52,416.20 V417.80" stroke="#1e1e1e" stroke-width="0.5" fill="none"/>
<path d="M476.04,416.20 V417.80" stroke="#1e1e1e" stroke-width="0.5" fill="none"/>
<path d="M477.99,416.20 V417.80" stroke="#1e1e1e" stroke-width="0.5" fill="none"/>
<path d="M479.58,416.20 V417.80" stroke="#1e1e1e" stroke-width="0.5" fill="none"/>
<path d="M480.93,416.20 V417.80" stroke="#1e1e1e" stroke-width="0.5" fill="none"/>
<path d="M482.10,416.20 V417.80" stroke="#1e1e1e" stroke-width="0.5" fill="none"/>
<path d="M483.13,416.20 V417.80" stroke="#1e1e1e" stroke-width="0.5" fill="none"/>
<path d="M484.05,416.20 V418.00" stroke="#1e1e1e" stroke-width="0.7" fill="none"/>
<path d="M490.11,416.20 V417.80" stroke="#1e1e1e" stroke-width="0.5" fill="none"/>
<path d="M493.65,416.20 V417.80" stroke="#1e1e1e" stroke-width="0.5" fill="none"/>
<path d="M496.17,416.20 V417.80" stroke="#1e1e1e" stroke-width="0.5" fill="none"/>
<path d="M498.12,416.20 V417.80" stroke="#1e1e1e" stroke-width="0.5" fill="none"/>
<path d="M499.71,416.20 V417.80" stroke="#1e1e1e" stroke-width="0.5" fill="none"/>
<path d="M501.06,416.20 V417.80" stroke="#1e1e1e" stroke-width="0.5" fill="none"/>
<path d="M502.23,416.20 V417.80" stroke="#1e1e1e" stroke-width="0.5" fill="none"/>
<path d="M503.26,416.20 V417.80" stroke="#1e1e1e" stroke-width="0.5" fill="none"/>
<path d="M504.18,416.20 V419.00" stroke="#1e1e1e" stroke-width="0.9" fill="none"/>
<text x="383.40" y="428.20" font-size="6.4" text-anchor="middle" font-weight="normal" fill="#383838" stroke="#383838" stroke-width="0">0.01</text>
<text x="423.66" y="428.20" font-size="6.4" text-anchor="middle" font-weight="normal" fill="#383838" stroke="#383838" stroke-width="0">1</text>
<text x="463.92" y="428.20" font-size="6.4" text-anchor="middle" font-weight="normal" fill="#383838" stroke="#383838" stroke-width="0">100</text>
<text x="504.18" y="428.20" font-size="6.4" text-anchor="middle" font-weight="normal" fill="#383838" stroke="#383838" stroke-width="0">10000</text>
<text x="361.20" y="374.50" font-size="7.7" text-anchor="middle" font-weight="normal" fill="#1a1a1a" stroke="#1a1a1a" stroke-width="0.3" textLength="47.20" lengthAdjust="spacingAndGlyphs" transform="rotate(-90 361.20 374.50)">AP activity (%BL)</text>
<text x="445.40" y="439.20" font-size="8.6" text-anchor="middle" font-weight="normal" fill="#1a1a1a" stroke="#1a1a1a" stroke-width="0.4" textLength="31.30" lengthAdjust="spacingAndGlyphs">CG001 (nM)</text>
<path d="M383.50,347.63 L384.01,347.63 L384.51,347.63 L385.02,347.63 L385.52,347.63 L386.03,347.63 L386.53,347.63 L387.04,347.63 L387.54,347.63 L388.05,347.63 L388.55,347.63 L389.06,347.63 L389.56,347.63 L390.07,347.63 L390.57,347.63 L391.08,347.63 L391.58,347.63 L392.09,347.63 L392.59,347.63 L393.10,347.63 L393.60,347.63 L394.11,347.63 L394.61,347.63 L395.12,347.63 L395.62,347.63 L396.13,347.63 L396.63,347.63 L397.14,347.63 L397.64,347.63 L398.15,347.63 L398.65,347.63 L399.16,347.63 L399.66,347.63 L400.17,347.63 L400.67,347.63 L401.18,347.63 L401.68,347.63 L402.19,347.63 L402.69,347.63 L403.20,347.63 L403.70,347.63 L404.21,347.63 L404.71,347.63 L405.22,347.63 L405.72,347.63 L406.23,347.63 L406.73,347.63 L407.24,347.63 L407.74,347.63 L408.25,347.63 L408.75,347.63 L409.26,347.63 L409.76,347.63 L410.27,347.63 L410.77,347.63 L411.28,347.63 L411.78,347.63 L412.29,347.63 L412.79,347.63 L413.30,347.63 L413.80,347.63 L414.31,347.63 L414.81,347.63 L415.32,347.63 L415.82,347.63 L416.33,347.63 L416.83,347.63 L417.34,347.63 L417.84,347.63 L418.35,347.63 L418.85,347.63 L419.36,347.63 L419.86,347.63 L420.37,347.63 L420.87,347.63 L421.38,347.63 L421.88,347.63 L422.39,347.63 L422.89,347.63 L423.40,347.63 L423.90,347.63 L424.41,347.63 L424.91,347.63 L425.42,347.63 L425.92,347.63 L426.43,347.63 L426.93,347.63 L427.44,347.63 L427.94,347.63 L428.45,347.63 L428.95,347.63 L429.46,347.63 L429.96,347.63 L430.47,347.63 L430.97,347.63 L431.48,347.63 L431.98,347.63 L432.49,347.63 L432.99,347.63 L433.50,347.63 L434.00,347.63 L434.51,347.63 L435.01,347.63 L435.52,347.63 L436.02,347.63 L436.53,347.64 L437.03,347.64 L437.54,347.64 L438.04,347.64 L438.55,347.64 L439.05,347.64 L439.56,347.65 L440.06,347.65 L440.57,347.65 L441.07,347.66 L441.58,347.66 L442.08,347.67 L442.59,347.68 L443.09,347.68 L443.60,347.69 L444.10,347.71 L444.61,347.72 L445.11,347.74 L445.62,347.76 L446.12,347.79 L446.63,347.82 L447.13,347.85 L447.64,347.89 L448.14,347.94 L448.65,348.00 L449.15,348.07 L449.66,348.16 L450.16,348.26 L450.67,348.38 L451.17,348.52 L451.68,348.69 L452.18,348.89 L452.69,349.12 L453.19,349.40 L453.70,349.73 L454.20,350.12 L454.71,350.58 L455.21,351.11 L455.72,351.74 L456.22,352.47 L456.73,353.32 L457.23,354.31 L457.74,355.44 L458.24,356.74 L458.75,358.22 L459.25,359.89 L459.76,361.75 L460.26,363.82 L460.77,366.09 L461.27,368.54 L461.78,371.18 L462.28,373.95 L462.79,376.85 L463.29,379.82 L463.80,382.82 L464.30,385.81 L464.81,388.74 L465.31,391.56 L465.82,394.26 L466.32,396.78 L466.83,399.13 L467.33,401.27 L467.84,403.21 L468.34,404.95 L468.85,406.50 L469.35,407.87 L469.86,409.06 L470.36,410.10 L470.87,411.00 L471.37,411.78 L471.88,412.45 L472.38,413.02 L472.89,413.50 L473.39,413.92 L473.90,414.27 L474.40,414.56 L474.91,414.82 L475.41,415.03 L475.92,415.21 L476.42,415.36 L476.93,415.49 L477.43,415.59 L477.94,415.68 L478.44,415.76 L478.95,415.82 L479.45,415.88 L479.96,415.92 L480.46,415.96 L480.97,415.99 L481.47,416.02 L481.98,416.04 L482.48,416.06 L482.99,416.08 L483.49,416.09 L484.00,416.10" stroke="#24486c" stroke-width="1.2" fill="none"/>
<path d="M443.70,345.20 V349.50 M442.10,345.20 H445.30 M442.10,349.50 H445.30" stroke="#5c7d9c" stroke-width="0.8" fill="none"/>
<path d="M461.40,365.50 V373.50 M459.80,365.50 H463.00 M459.80,373.50 H463.00" stroke="#5c7d9c" stroke-width="0.8" fill="none"/>
<path d="M464.10,381.00 V389.00 M462.50,381.00 H465.70 M462.50,389.00 H465.70" stroke="#5c7d9c" stroke-width="0.8" fill="none"/>
<circle cx="383.30" cy="348.85" r="1.95" fill="#17324f"/>
<circle cx="423.60" cy="348.20" r="1.95" fill="#17324f"/>
<circle cx="443.70" cy="347.30" r="1.95" fill="#17324f"/>
<circle cx="451.50" cy="347.30" r="1.95" fill="#17324f"/>
<circle cx="457.90" cy="355.50" r="1.95" fill="#17324f"/>
<circle cx="461.40" cy="369.40" r="1.95" fill="#17324f"/>
<circle cx="464.10" cy="384.90" r="1.95" fill="#17324f"/>
<circle cx="470.00" cy="408.60" r="1.95" fill="#17324f"/>
<circle cx="477.30" cy="416.10" r="1.95" fill="#17324f"/>
<circle cx="484.00" cy="416.10" r="1.95" fill="#17324f"/>
<rect x="0" y="0" width="520" height="1" fill="#474747"/><rect x="0" y="0" width="1" height="448" fill="#4f4f4f"/><rect x="519" y="0" width="1" height="448" fill="#474747"/><rect x="0" y="446" width="520" height="2" fill="#474747"/>
</svg></div>
</body></html>
